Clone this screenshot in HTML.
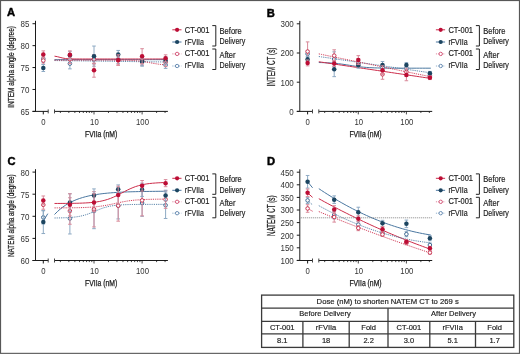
<!DOCTYPE html>
<html><head><meta charset="utf-8"><style>
html,body{margin:0;padding:0;background:#fff;}
svg{display:block;}
text{font-family:"Liberation Sans", sans-serif;}
</style></head><body>
<svg width="520" height="354" viewBox="0 0 520 354">
<defs><filter id="bl" filterUnits="userSpaceOnUse" x="0" y="0" width="520" height="354"><feGaussianBlur stdDeviation="0.3"/></filter></defs>
<rect width="520" height="354" fill="#fff"/>
<g filter="url(#bl)">
<text x="7.00" y="16.10" font-size="11.2" text-anchor="start" font-weight="bold" fill="#000"  stroke="#000" stroke-width="0.45">A</text>
<line x1="35.5" y1="20.80" x2="35.5" y2="111.4" stroke="#1a1a1a" stroke-width="1"/>
<line x1="32.5" y1="111.40" x2="35.5" y2="111.40" stroke="#1a1a1a" stroke-width="1"/>
<text x="29.50" y="114.80" font-size="8.56" text-anchor="end" font-weight="normal" fill="#333"  stroke-width="0" textLength="8.90" lengthAdjust="spacingAndGlyphs">65</text>
<line x1="32.5" y1="89.48" x2="35.5" y2="89.48" stroke="#1a1a1a" stroke-width="1"/>
<text x="29.50" y="92.88" font-size="8.56" text-anchor="end" font-weight="normal" fill="#333"  stroke-width="0" textLength="8.90" lengthAdjust="spacingAndGlyphs">70</text>
<line x1="32.5" y1="67.55" x2="35.5" y2="67.55" stroke="#1a1a1a" stroke-width="1"/>
<text x="29.50" y="70.95" font-size="8.56" text-anchor="end" font-weight="normal" fill="#333"  stroke-width="0" textLength="8.90" lengthAdjust="spacingAndGlyphs">75</text>
<line x1="32.5" y1="45.63" x2="35.5" y2="45.63" stroke="#1a1a1a" stroke-width="1"/>
<text x="29.50" y="49.03" font-size="8.56" text-anchor="end" font-weight="normal" fill="#333"  stroke-width="0" textLength="8.90" lengthAdjust="spacingAndGlyphs">80</text>
<line x1="32.5" y1="23.70" x2="35.5" y2="23.70" stroke="#1a1a1a" stroke-width="1"/>
<text x="29.50" y="27.10" font-size="8.56" text-anchor="end" font-weight="normal" fill="#333"  stroke-width="0" textLength="8.90" lengthAdjust="spacingAndGlyphs">85</text>
<line x1="32.5" y1="111.4" x2="48.2" y2="111.4" stroke="#1a1a1a" stroke-width="1"/>
<line x1="48.2" y1="109.4" x2="48.2" y2="113.4" stroke="#444" stroke-width="1"/>
<line x1="43.3" y1="111.4" x2="43.3" y2="114.4" stroke="#1a1a1a" stroke-width="1"/>
<text x="43.30" y="124.50" font-size="8.14" text-anchor="middle" font-weight="normal" fill="#333"  stroke-width="0" textLength="4.31" lengthAdjust="spacingAndGlyphs">0</text>
<line x1="54.5" y1="111.4" x2="167.9" y2="111.4" stroke="#1a1a1a" stroke-width="1"/>
<line x1="54.5" y1="109.4" x2="54.5" y2="113.4" stroke="#444" stroke-width="1"/>
<line x1="60.38" y1="111.4" x2="60.38" y2="113.0" stroke="#1a1a1a" stroke-width="0.8"/>
<line x1="68.85" y1="111.4" x2="68.85" y2="113.0" stroke="#1a1a1a" stroke-width="0.8"/>
<line x1="74.86" y1="111.4" x2="74.86" y2="113.0" stroke="#1a1a1a" stroke-width="0.8"/>
<line x1="79.52" y1="111.4" x2="79.52" y2="113.0" stroke="#1a1a1a" stroke-width="0.8"/>
<line x1="83.33" y1="111.4" x2="83.33" y2="113.0" stroke="#1a1a1a" stroke-width="0.8"/>
<line x1="86.55" y1="111.4" x2="86.55" y2="113.0" stroke="#1a1a1a" stroke-width="0.8"/>
<line x1="89.34" y1="111.4" x2="89.34" y2="113.0" stroke="#1a1a1a" stroke-width="0.8"/>
<line x1="91.80" y1="111.4" x2="91.80" y2="113.0" stroke="#1a1a1a" stroke-width="0.8"/>
<line x1="94.00" y1="111.4" x2="94.00" y2="114.4" stroke="#1a1a1a" stroke-width="0.8"/>
<line x1="108.48" y1="111.4" x2="108.48" y2="113.0" stroke="#1a1a1a" stroke-width="0.8"/>
<line x1="116.95" y1="111.4" x2="116.95" y2="113.0" stroke="#1a1a1a" stroke-width="0.8"/>
<line x1="122.96" y1="111.4" x2="122.96" y2="113.0" stroke="#1a1a1a" stroke-width="0.8"/>
<line x1="127.62" y1="111.4" x2="127.62" y2="113.0" stroke="#1a1a1a" stroke-width="0.8"/>
<line x1="131.43" y1="111.4" x2="131.43" y2="113.0" stroke="#1a1a1a" stroke-width="0.8"/>
<line x1="134.65" y1="111.4" x2="134.65" y2="113.0" stroke="#1a1a1a" stroke-width="0.8"/>
<line x1="137.44" y1="111.4" x2="137.44" y2="113.0" stroke="#1a1a1a" stroke-width="0.8"/>
<line x1="139.90" y1="111.4" x2="139.90" y2="113.0" stroke="#1a1a1a" stroke-width="0.8"/>
<line x1="142.10" y1="111.4" x2="142.10" y2="114.4" stroke="#1a1a1a" stroke-width="0.8"/>
<line x1="156.58" y1="111.4" x2="156.58" y2="113.0" stroke="#1a1a1a" stroke-width="0.8"/>
<line x1="165.05" y1="111.4" x2="165.05" y2="113.0" stroke="#1a1a1a" stroke-width="0.8"/>
<text x="94.40" y="124.50" font-size="8.14" text-anchor="middle" font-weight="normal" fill="#333"  stroke-width="0" textLength="8.62" lengthAdjust="spacingAndGlyphs">10</text>
<text x="142.50" y="124.50" font-size="8.14" text-anchor="middle" font-weight="normal" fill="#333"  stroke-width="0" textLength="12.93" lengthAdjust="spacingAndGlyphs">100</text>
<text x="101.20" y="136.80" font-size="8.2" text-anchor="middle" font-weight="normal" fill="#1a1a1a"  stroke="#1a1a1a" stroke-width="0.25" textLength="32.2" lengthAdjust="spacingAndGlyphs">FVIIa (nM)</text>
<text transform="translate(14.4,66.95) rotate(-90)" x="0" y="0" font-size="9.0" text-anchor="middle" font-weight="normal" fill="#222" stroke="#222" stroke-width="0.25" textLength="81.7" lengthAdjust="spacingAndGlyphs">INTEM alpha angle (degree)</text>
<path d="M54.50,59.66 L57.30,59.66 L60.10,59.66 L62.90,59.66 L65.70,59.66 L68.50,59.66 L71.30,59.66 L74.10,59.66 L76.90,59.66 L79.70,59.66 L82.50,59.66 L85.30,59.66 L88.10,59.66 L90.90,59.66 L93.70,59.66 L96.50,59.66 L99.30,59.66 L102.10,59.66 L104.90,59.66 L107.70,59.66 L110.50,59.66 L113.30,59.66 L116.10,59.66 L118.90,59.66 L121.70,59.66 L124.50,59.66 L127.30,59.66 L130.10,59.66 L132.90,59.66 L135.70,59.66 L138.50,59.66 L141.30,59.66 L144.10,59.66 L146.90,59.66 L149.70,59.66 L152.50,59.66 L155.30,59.66 L158.10,59.66 L160.90,59.66 L163.70,59.66 L166.50,59.66" fill="none" stroke="#4a77a0" stroke-width="1" />
<path d="M54.50,56.16 L57.30,56.66 L60.10,57.38 L62.90,58.09 L65.70,58.57 L68.50,58.82 L71.30,58.92 L74.10,58.97 L76.90,58.99 L79.70,58.99 L82.50,59.00 L85.30,59.00 L88.10,59.00 L90.90,59.00 L93.70,59.00 L96.50,59.00 L99.30,59.00 L102.10,59.00 L104.90,59.00 L107.70,59.00 L110.50,59.00 L113.30,59.00 L116.10,59.00 L118.90,59.00 L121.70,59.00 L124.50,59.00 L127.30,59.00 L130.10,59.00 L132.90,59.00 L135.70,59.00 L138.50,59.00 L141.30,59.00 L144.10,59.00 L146.90,59.00 L149.70,59.00 L152.50,59.00 L155.30,59.00 L158.10,59.00 L160.90,59.00 L163.70,59.00 L166.50,59.00" fill="none" stroke="#cc2c4a" stroke-width="1" />
<path d="M54.50,60.54 L57.30,60.58 L60.10,60.61 L62.90,60.65 L65.70,60.69 L68.50,60.72 L71.30,60.76 L74.10,60.80 L76.90,60.84 L79.70,60.87 L82.50,60.91 L85.30,60.95 L88.10,60.98 L90.90,61.02 L93.70,61.06 L96.50,61.09 L99.30,61.13 L102.10,61.17 L104.90,61.20 L107.70,61.24 L110.50,61.28 L113.30,61.31 L116.10,61.35 L118.90,61.39 L121.70,61.42 L124.50,61.46 L127.30,61.50 L130.10,61.54 L132.90,61.57 L135.70,61.61 L138.50,61.65 L141.30,61.68 L144.10,61.72 L146.90,61.76 L149.70,61.79 L152.50,61.83 L155.30,61.87 L158.10,61.90 L160.90,61.94 L163.70,61.98 L166.50,62.01" fill="none" stroke="#4a77a0" stroke-width="0.9" stroke-dasharray="1.2,1"/>
<path d="M54.50,60.10 L57.30,60.10 L60.10,60.10 L62.90,60.10 L65.70,60.10 L68.50,60.10 L71.30,60.10 L74.10,60.10 L76.90,60.10 L79.70,60.10 L82.50,60.10 L85.30,60.10 L88.10,60.10 L90.90,60.10 L93.70,60.10 L96.50,60.10 L99.30,60.10 L102.10,60.10 L104.90,60.10 L107.70,60.11 L110.50,60.11 L113.30,60.12 L116.10,60.14 L118.90,60.16 L121.70,60.19 L124.50,60.23 L127.30,60.29 L130.10,60.39 L132.90,60.52 L135.70,60.70 L138.50,60.95 L141.30,61.27 L144.10,61.68 L146.90,62.15 L149.70,62.67 L152.50,63.19 L155.30,63.68 L158.10,64.10 L160.90,64.44 L163.70,64.71 L166.50,64.90" fill="none" stroke="#cc2c4a" stroke-width="0.9" stroke-dasharray="1.2,1"/>
<line x1="43.3" y1="55.27" x2="43.3" y2="62.29" stroke="#8eaac4" stroke-width="1"/>
<line x1="41.5" y1="55.27" x2="45.099999999999994" y2="55.27" stroke="#8eaac4" stroke-width="1"/>
<line x1="41.5" y1="62.29" x2="45.099999999999994" y2="62.29" stroke="#8eaac4" stroke-width="1"/>
<circle cx="43.3" cy="58.78" r="1.8" fill="#fff" stroke="#3f6a93" stroke-width="1"/>
<line x1="69.9" y1="58.34" x2="69.9" y2="68.87" stroke="#8eaac4" stroke-width="1"/>
<line x1="68.10000000000001" y1="58.34" x2="71.7" y2="58.34" stroke="#8eaac4" stroke-width="1"/>
<line x1="68.10000000000001" y1="68.87" x2="71.7" y2="68.87" stroke="#8eaac4" stroke-width="1"/>
<circle cx="69.9" cy="63.60" r="1.8" fill="#fff" stroke="#3f6a93" stroke-width="1"/>
<line x1="94.0" y1="55.27" x2="94.0" y2="64.04" stroke="#8eaac4" stroke-width="1"/>
<line x1="92.2" y1="55.27" x2="95.8" y2="55.27" stroke="#8eaac4" stroke-width="1"/>
<line x1="92.2" y1="64.04" x2="95.8" y2="64.04" stroke="#8eaac4" stroke-width="1"/>
<circle cx="94.0" cy="59.66" r="1.8" fill="#fff" stroke="#3f6a93" stroke-width="1"/>
<line x1="118.2" y1="54.83" x2="118.2" y2="63.60" stroke="#8eaac4" stroke-width="1"/>
<line x1="116.4" y1="54.83" x2="120.0" y2="54.83" stroke="#8eaac4" stroke-width="1"/>
<line x1="116.4" y1="63.60" x2="120.0" y2="63.60" stroke="#8eaac4" stroke-width="1"/>
<circle cx="118.2" cy="59.22" r="1.8" fill="#fff" stroke="#3f6a93" stroke-width="1"/>
<line x1="142.1" y1="58.34" x2="142.1" y2="65.36" stroke="#8eaac4" stroke-width="1"/>
<line x1="140.29999999999998" y1="58.34" x2="143.9" y2="58.34" stroke="#8eaac4" stroke-width="1"/>
<line x1="140.29999999999998" y1="65.36" x2="143.9" y2="65.36" stroke="#8eaac4" stroke-width="1"/>
<circle cx="142.1" cy="61.85" r="1.8" fill="#fff" stroke="#3f6a93" stroke-width="1"/>
<line x1="165.6" y1="61.41" x2="165.6" y2="68.43" stroke="#8eaac4" stroke-width="1"/>
<line x1="163.79999999999998" y1="61.41" x2="167.4" y2="61.41" stroke="#8eaac4" stroke-width="1"/>
<line x1="163.79999999999998" y1="68.43" x2="167.4" y2="68.43" stroke="#8eaac4" stroke-width="1"/>
<circle cx="165.6" cy="64.92" r="1.8" fill="#fff" stroke="#3f6a93" stroke-width="1"/>
<line x1="43.3" y1="57.03" x2="43.3" y2="64.04" stroke="#d98a9a" stroke-width="1"/>
<line x1="41.5" y1="57.03" x2="45.099999999999994" y2="57.03" stroke="#d98a9a" stroke-width="1"/>
<line x1="41.5" y1="64.04" x2="45.099999999999994" y2="64.04" stroke="#d98a9a" stroke-width="1"/>
<circle cx="43.3" cy="60.53" r="1.8" fill="#fff" stroke="#c83350" stroke-width="1"/>
<line x1="69.9" y1="54.83" x2="69.9" y2="63.60" stroke="#d98a9a" stroke-width="1"/>
<line x1="68.10000000000001" y1="54.83" x2="71.7" y2="54.83" stroke="#d98a9a" stroke-width="1"/>
<line x1="68.10000000000001" y1="63.60" x2="71.7" y2="63.60" stroke="#d98a9a" stroke-width="1"/>
<circle cx="69.9" cy="59.22" r="1.8" fill="#fff" stroke="#c83350" stroke-width="1"/>
<line x1="94.0" y1="54.83" x2="94.0" y2="63.60" stroke="#d98a9a" stroke-width="1"/>
<line x1="92.2" y1="54.83" x2="95.8" y2="54.83" stroke="#d98a9a" stroke-width="1"/>
<line x1="92.2" y1="63.60" x2="95.8" y2="63.60" stroke="#d98a9a" stroke-width="1"/>
<circle cx="94.0" cy="59.22" r="1.8" fill="#fff" stroke="#c83350" stroke-width="1"/>
<line x1="118.2" y1="56.15" x2="118.2" y2="64.92" stroke="#d98a9a" stroke-width="1"/>
<line x1="116.4" y1="56.15" x2="120.0" y2="56.15" stroke="#d98a9a" stroke-width="1"/>
<line x1="116.4" y1="64.92" x2="120.0" y2="64.92" stroke="#d98a9a" stroke-width="1"/>
<circle cx="118.2" cy="60.53" r="1.8" fill="#fff" stroke="#c83350" stroke-width="1"/>
<line x1="142.1" y1="56.15" x2="142.1" y2="64.92" stroke="#d98a9a" stroke-width="1"/>
<line x1="140.29999999999998" y1="56.15" x2="143.9" y2="56.15" stroke="#d98a9a" stroke-width="1"/>
<line x1="140.29999999999998" y1="64.92" x2="143.9" y2="64.92" stroke="#d98a9a" stroke-width="1"/>
<circle cx="142.1" cy="60.53" r="1.8" fill="#fff" stroke="#c83350" stroke-width="1"/>
<line x1="165.6" y1="57.90" x2="165.6" y2="66.67" stroke="#d98a9a" stroke-width="1"/>
<line x1="163.79999999999998" y1="57.90" x2="167.4" y2="57.90" stroke="#d98a9a" stroke-width="1"/>
<line x1="163.79999999999998" y1="66.67" x2="167.4" y2="66.67" stroke="#d98a9a" stroke-width="1"/>
<circle cx="165.6" cy="62.29" r="1.8" fill="#fff" stroke="#c83350" stroke-width="1"/>
<line x1="43.3" y1="64.48" x2="43.3" y2="71.50" stroke="#8eaac4" stroke-width="1"/>
<line x1="41.5" y1="64.48" x2="45.099999999999994" y2="64.48" stroke="#8eaac4" stroke-width="1"/>
<line x1="41.5" y1="71.50" x2="45.099999999999994" y2="71.50" stroke="#8eaac4" stroke-width="1"/>
<circle cx="43.3" cy="67.99" r="2.25" fill="#1c4561"/>
<line x1="69.9" y1="51.33" x2="69.9" y2="59.22" stroke="#8eaac4" stroke-width="1"/>
<line x1="68.10000000000001" y1="51.33" x2="71.7" y2="51.33" stroke="#8eaac4" stroke-width="1"/>
<line x1="68.10000000000001" y1="59.22" x2="71.7" y2="59.22" stroke="#8eaac4" stroke-width="1"/>
<circle cx="69.9" cy="55.27" r="2.25" fill="#1c4561"/>
<line x1="94.0" y1="46.06" x2="94.0" y2="66.23" stroke="#8eaac4" stroke-width="1"/>
<line x1="92.2" y1="46.06" x2="95.8" y2="46.06" stroke="#8eaac4" stroke-width="1"/>
<line x1="92.2" y1="66.23" x2="95.8" y2="66.23" stroke="#8eaac4" stroke-width="1"/>
<circle cx="94.0" cy="56.15" r="2.25" fill="#1c4561"/>
<line x1="118.2" y1="50.45" x2="118.2" y2="58.34" stroke="#8eaac4" stroke-width="1"/>
<line x1="116.4" y1="50.45" x2="120.0" y2="50.45" stroke="#8eaac4" stroke-width="1"/>
<line x1="116.4" y1="58.34" x2="120.0" y2="58.34" stroke="#8eaac4" stroke-width="1"/>
<circle cx="118.2" cy="54.40" r="2.25" fill="#1c4561"/>
<line x1="142.1" y1="57.46" x2="142.1" y2="66.23" stroke="#8eaac4" stroke-width="1"/>
<line x1="140.29999999999998" y1="57.46" x2="143.9" y2="57.46" stroke="#8eaac4" stroke-width="1"/>
<line x1="140.29999999999998" y1="66.23" x2="143.9" y2="66.23" stroke="#8eaac4" stroke-width="1"/>
<circle cx="142.1" cy="61.85" r="2.25" fill="#1c4561"/>
<line x1="165.6" y1="57.03" x2="165.6" y2="64.04" stroke="#8eaac4" stroke-width="1"/>
<line x1="163.79999999999998" y1="57.03" x2="167.4" y2="57.03" stroke="#8eaac4" stroke-width="1"/>
<line x1="163.79999999999998" y1="64.04" x2="167.4" y2="64.04" stroke="#8eaac4" stroke-width="1"/>
<circle cx="165.6" cy="60.53" r="2.25" fill="#1c4561"/>
<line x1="43.3" y1="50.89" x2="43.3" y2="57.90" stroke="#d98a9a" stroke-width="1"/>
<line x1="41.5" y1="50.89" x2="45.099999999999994" y2="50.89" stroke="#d98a9a" stroke-width="1"/>
<line x1="41.5" y1="57.90" x2="45.099999999999994" y2="57.90" stroke="#d98a9a" stroke-width="1"/>
<circle cx="43.3" cy="54.40" r="2.25" fill="#bc1036"/>
<line x1="69.9" y1="50.89" x2="69.9" y2="58.78" stroke="#d98a9a" stroke-width="1"/>
<line x1="68.10000000000001" y1="50.89" x2="71.7" y2="50.89" stroke="#d98a9a" stroke-width="1"/>
<line x1="68.10000000000001" y1="58.78" x2="71.7" y2="58.78" stroke="#d98a9a" stroke-width="1"/>
<circle cx="69.9" cy="54.83" r="2.25" fill="#bc1036"/>
<line x1="94.0" y1="63.17" x2="94.0" y2="77.20" stroke="#d98a9a" stroke-width="1"/>
<line x1="92.2" y1="63.17" x2="95.8" y2="63.17" stroke="#d98a9a" stroke-width="1"/>
<line x1="92.2" y1="77.20" x2="95.8" y2="77.20" stroke="#d98a9a" stroke-width="1"/>
<circle cx="94.0" cy="70.18" r="2.25" fill="#bc1036"/>
<line x1="118.2" y1="54.83" x2="118.2" y2="65.36" stroke="#d98a9a" stroke-width="1"/>
<line x1="116.4" y1="54.83" x2="120.0" y2="54.83" stroke="#d98a9a" stroke-width="1"/>
<line x1="116.4" y1="65.36" x2="120.0" y2="65.36" stroke="#d98a9a" stroke-width="1"/>
<circle cx="118.2" cy="60.10" r="2.25" fill="#bc1036"/>
<line x1="142.1" y1="48.69" x2="142.1" y2="63.60" stroke="#d98a9a" stroke-width="1"/>
<line x1="140.29999999999998" y1="48.69" x2="143.9" y2="48.69" stroke="#d98a9a" stroke-width="1"/>
<line x1="140.29999999999998" y1="63.60" x2="143.9" y2="63.60" stroke="#d98a9a" stroke-width="1"/>
<circle cx="142.1" cy="56.15" r="2.25" fill="#bc1036"/>
<line x1="165.6" y1="54.83" x2="165.6" y2="61.85" stroke="#d98a9a" stroke-width="1"/>
<line x1="163.79999999999998" y1="54.83" x2="167.4" y2="54.83" stroke="#d98a9a" stroke-width="1"/>
<line x1="163.79999999999998" y1="61.85" x2="167.4" y2="61.85" stroke="#d98a9a" stroke-width="1"/>
<circle cx="165.6" cy="58.34" r="2.25" fill="#bc1036"/>
<line x1="172.3" y1="29.8" x2="181.5" y2="29.8" stroke="#cc2c4a" stroke-width="1"/>
<circle cx="177.1" cy="29.8" r="2.1" fill="#bc1036"/>
<text x="184.80" y="32.70" font-size="8.6" text-anchor="start" font-weight="normal" fill="#1a1a1a" stroke="#1a1a1a" stroke-width="0.17" textLength="24.6" lengthAdjust="spacingAndGlyphs">CT-001</text>
<line x1="172.3" y1="42.0" x2="181.5" y2="42.0" stroke="#4a77a0" stroke-width="1"/>
<circle cx="177.1" cy="42.0" r="2.1" fill="#1c4561"/>
<text x="184.80" y="44.80" font-size="8.6" text-anchor="start" font-weight="normal" fill="#1a1a1a" stroke="#1a1a1a" stroke-width="0.17" textLength="19.2" lengthAdjust="spacingAndGlyphs">rFVIIa</text>
<line x1="172.3" y1="53.9" x2="181.5" y2="53.9" stroke="#e08aa0" stroke-width="1" stroke-dasharray="1.2,1"/>
<circle cx="177.1" cy="53.9" r="1.7" fill="#fff" stroke="#d4587a" stroke-width="1"/>
<text x="184.80" y="56.40" font-size="8.6" text-anchor="start" font-weight="normal" fill="#1a1a1a" stroke="#1a1a1a" stroke-width="0.17" textLength="24.6" lengthAdjust="spacingAndGlyphs">CT-001</text>
<line x1="172.3" y1="66.0" x2="181.5" y2="66.0" stroke="#92b0cc" stroke-width="1" stroke-dasharray="1.2,1"/>
<circle cx="177.1" cy="66.0" r="1.7" fill="#fff" stroke="#6a8db3" stroke-width="1"/>
<text x="184.80" y="68.40" font-size="8.6" text-anchor="start" font-weight="normal" fill="#1a1a1a" stroke="#1a1a1a" stroke-width="0.17" textLength="19.2" lengthAdjust="spacingAndGlyphs">rFVIIa</text>
<path d="M212.3,25.6 H215.8 V46.0 H212.3" fill="none" stroke="#222" stroke-width="1"/>
<path d="M212.3,49.0 H215.8 V69.5 H212.3" fill="none" stroke="#222" stroke-width="1"/>
<text x="219.60" y="34.00" font-size="8.6" text-anchor="start" font-weight="normal" fill="#1a1a1a" stroke="#1a1a1a" stroke-width="0.17" textLength="22.2" lengthAdjust="spacingAndGlyphs">Before</text>
<text x="219.60" y="44.20" font-size="8.6" text-anchor="start" font-weight="normal" fill="#1a1a1a" stroke="#1a1a1a" stroke-width="0.17" textLength="25.7" lengthAdjust="spacingAndGlyphs">Delivery</text>
<text x="219.60" y="58.00" font-size="8.6" text-anchor="start" font-weight="normal" fill="#1a1a1a" stroke="#1a1a1a" stroke-width="0.17" textLength="16" lengthAdjust="spacingAndGlyphs">After</text>
<text x="219.60" y="68.00" font-size="8.6" text-anchor="start" font-weight="normal" fill="#1a1a1a" stroke="#1a1a1a" stroke-width="0.17" textLength="25.7" lengthAdjust="spacingAndGlyphs">Delivery</text>
<text x="266.80" y="16.50" font-size="11.2" text-anchor="start" font-weight="bold" fill="#000"  stroke="#000" stroke-width="0.45">B</text>
<line x1="299.8" y1="20.90" x2="299.8" y2="111.4" stroke="#1a1a1a" stroke-width="1"/>
<line x1="296.8" y1="111.40" x2="299.8" y2="111.40" stroke="#1a1a1a" stroke-width="1"/>
<text x="293.80" y="114.80" font-size="8.56" text-anchor="end" font-weight="normal" fill="#333"  stroke-width="0" textLength="4.45" lengthAdjust="spacingAndGlyphs">0</text>
<line x1="296.8" y1="82.20" x2="299.8" y2="82.20" stroke="#1a1a1a" stroke-width="1"/>
<text x="293.80" y="85.60" font-size="8.56" text-anchor="end" font-weight="normal" fill="#333"  stroke-width="0" textLength="13.35" lengthAdjust="spacingAndGlyphs">100</text>
<line x1="296.8" y1="53.00" x2="299.8" y2="53.00" stroke="#1a1a1a" stroke-width="1"/>
<text x="293.80" y="56.40" font-size="8.56" text-anchor="end" font-weight="normal" fill="#333"  stroke-width="0" textLength="13.35" lengthAdjust="spacingAndGlyphs">200</text>
<line x1="296.8" y1="23.80" x2="299.8" y2="23.80" stroke="#1a1a1a" stroke-width="1"/>
<text x="293.80" y="27.20" font-size="8.56" text-anchor="end" font-weight="normal" fill="#333"  stroke-width="0" textLength="13.35" lengthAdjust="spacingAndGlyphs">300</text>
<line x1="296.8" y1="111.4" x2="312.5" y2="111.4" stroke="#1a1a1a" stroke-width="1"/>
<line x1="312.5" y1="109.4" x2="312.5" y2="113.4" stroke="#444" stroke-width="1"/>
<line x1="307.6" y1="111.4" x2="307.6" y2="114.4" stroke="#1a1a1a" stroke-width="1"/>
<text x="307.60" y="124.50" font-size="8.14" text-anchor="middle" font-weight="normal" fill="#333"  stroke-width="0" textLength="4.31" lengthAdjust="spacingAndGlyphs">0</text>
<line x1="318.8" y1="111.4" x2="432.20000000000005" y2="111.4" stroke="#1a1a1a" stroke-width="1"/>
<line x1="318.8" y1="109.4" x2="318.8" y2="113.4" stroke="#444" stroke-width="1"/>
<line x1="324.68" y1="111.4" x2="324.68" y2="113.0" stroke="#1a1a1a" stroke-width="0.8"/>
<line x1="333.15" y1="111.4" x2="333.15" y2="113.0" stroke="#1a1a1a" stroke-width="0.8"/>
<line x1="339.16" y1="111.4" x2="339.16" y2="113.0" stroke="#1a1a1a" stroke-width="0.8"/>
<line x1="343.82" y1="111.4" x2="343.82" y2="113.0" stroke="#1a1a1a" stroke-width="0.8"/>
<line x1="347.63" y1="111.4" x2="347.63" y2="113.0" stroke="#1a1a1a" stroke-width="0.8"/>
<line x1="350.85" y1="111.4" x2="350.85" y2="113.0" stroke="#1a1a1a" stroke-width="0.8"/>
<line x1="353.64" y1="111.4" x2="353.64" y2="113.0" stroke="#1a1a1a" stroke-width="0.8"/>
<line x1="356.10" y1="111.4" x2="356.10" y2="113.0" stroke="#1a1a1a" stroke-width="0.8"/>
<line x1="358.30" y1="111.4" x2="358.30" y2="114.4" stroke="#1a1a1a" stroke-width="0.8"/>
<line x1="372.78" y1="111.4" x2="372.78" y2="113.0" stroke="#1a1a1a" stroke-width="0.8"/>
<line x1="381.25" y1="111.4" x2="381.25" y2="113.0" stroke="#1a1a1a" stroke-width="0.8"/>
<line x1="387.26" y1="111.4" x2="387.26" y2="113.0" stroke="#1a1a1a" stroke-width="0.8"/>
<line x1="391.92" y1="111.4" x2="391.92" y2="113.0" stroke="#1a1a1a" stroke-width="0.8"/>
<line x1="395.73" y1="111.4" x2="395.73" y2="113.0" stroke="#1a1a1a" stroke-width="0.8"/>
<line x1="398.95" y1="111.4" x2="398.95" y2="113.0" stroke="#1a1a1a" stroke-width="0.8"/>
<line x1="401.74" y1="111.4" x2="401.74" y2="113.0" stroke="#1a1a1a" stroke-width="0.8"/>
<line x1="404.20" y1="111.4" x2="404.20" y2="113.0" stroke="#1a1a1a" stroke-width="0.8"/>
<line x1="406.40" y1="111.4" x2="406.40" y2="114.4" stroke="#1a1a1a" stroke-width="0.8"/>
<line x1="420.88" y1="111.4" x2="420.88" y2="113.0" stroke="#1a1a1a" stroke-width="0.8"/>
<line x1="429.35" y1="111.4" x2="429.35" y2="113.0" stroke="#1a1a1a" stroke-width="0.8"/>
<text x="358.70" y="124.50" font-size="8.14" text-anchor="middle" font-weight="normal" fill="#333"  stroke-width="0" textLength="8.62" lengthAdjust="spacingAndGlyphs">10</text>
<text x="406.80" y="124.50" font-size="8.14" text-anchor="middle" font-weight="normal" fill="#333"  stroke-width="0" textLength="12.93" lengthAdjust="spacingAndGlyphs">100</text>
<text x="365.50" y="136.80" font-size="8.2" text-anchor="middle" font-weight="normal" fill="#1a1a1a"  stroke="#1a1a1a" stroke-width="0.25" textLength="32.2" lengthAdjust="spacingAndGlyphs">FVIIa (nM)</text>
<text transform="translate(274.9,67.00) rotate(-90)" x="0" y="0" font-size="10.4" text-anchor="middle" font-weight="normal" fill="#222" stroke="#222" stroke-width="0.25" textLength="38.9" lengthAdjust="spacingAndGlyphs">INTEM CT (s)</text>
<path d="M318.80,62.53 L321.60,62.60 L324.40,62.69 L327.20,62.81 L330.00,62.96 L332.80,63.15 L335.60,63.39 L338.40,63.68 L341.20,64.03 L344.00,64.43 L346.80,64.86 L349.60,65.31 L352.40,65.76 L355.20,66.19 L358.00,66.57 L360.80,66.91 L363.60,67.19 L366.40,67.42 L369.20,67.61 L372.00,67.75 L374.80,67.86 L377.60,67.94 L380.40,68.01 L383.20,68.05 L386.00,68.09 L388.80,68.11 L391.60,68.13 L394.40,68.15 L397.20,68.16 L400.00,68.16 L402.80,68.17 L405.60,68.17 L408.40,68.18 L411.20,68.18 L414.00,68.18 L416.80,68.18 L419.60,68.18 L422.40,68.18 L425.20,68.18 L428.00,68.18 L430.80,68.18" fill="none" stroke="#4a77a0" stroke-width="1" />
<path d="M318.80,61.76 L321.60,62.18 L324.40,62.59 L327.20,63.01 L330.00,63.43 L332.80,63.84 L335.60,64.26 L338.40,64.68 L341.20,65.10 L344.00,65.51 L346.80,65.93 L349.60,66.35 L352.40,66.76 L355.20,67.18 L358.00,67.60 L360.80,68.01 L363.60,68.43 L366.40,68.85 L369.20,69.27 L372.00,69.68 L374.80,70.10 L377.60,70.52 L380.40,70.93 L383.20,71.35 L386.00,71.77 L388.80,72.18 L391.60,72.60 L394.40,73.02 L397.20,73.44 L400.00,73.85 L402.80,74.27 L405.60,74.69 L408.40,75.10 L411.20,75.52 L414.00,75.94 L416.80,76.35 L419.60,76.77 L422.40,77.19 L425.20,77.61 L428.00,78.02 L430.80,78.44" fill="none" stroke="#cc2c4a" stroke-width="1" />
<path d="M318.80,56.50 L321.60,56.91 L324.40,57.32 L327.20,57.73 L330.00,58.14 L332.80,58.55 L335.60,58.96 L338.40,59.37 L341.20,59.77 L344.00,60.18 L346.80,60.59 L349.60,61.00 L352.40,61.41 L355.20,61.82 L358.00,62.23 L360.80,62.64 L363.60,63.04 L366.40,63.45 L369.20,63.86 L372.00,64.27 L374.80,64.68 L377.60,65.09 L380.40,65.50 L383.20,65.91 L386.00,66.32 L388.80,66.72 L391.60,67.13 L394.40,67.54 L397.20,67.95 L400.00,68.36 L402.80,68.77 L405.60,69.18 L408.40,69.59 L411.20,69.99 L414.00,70.40 L416.80,70.81 L419.60,71.22 L422.40,71.63 L425.20,72.04 L428.00,72.45 L430.80,72.86" fill="none" stroke="#4a77a0" stroke-width="0.9" stroke-dasharray="1.2,1"/>
<path d="M318.80,53.88 L321.60,54.45 L324.40,55.02 L327.20,55.59 L330.00,56.17 L332.80,56.74 L335.60,57.31 L338.40,57.88 L341.20,58.45 L344.00,59.03 L346.80,59.60 L349.60,60.17 L352.40,60.74 L355.20,61.32 L358.00,61.89 L360.80,62.46 L363.60,63.03 L366.40,63.61 L369.20,64.18 L372.00,64.75 L374.80,65.32 L377.60,65.89 L380.40,66.47 L383.20,67.04 L386.00,67.61 L388.80,68.18 L391.60,68.76 L394.40,69.33 L397.20,69.90 L400.00,70.47 L402.80,71.05 L405.60,71.62 L408.40,72.19 L411.20,72.76 L414.00,73.33 L416.80,73.91 L419.60,74.48 L422.40,75.05 L425.20,75.62 L428.00,76.20 L430.80,76.77" fill="none" stroke="#cc2c4a" stroke-width="0.9" stroke-dasharray="1.2,1"/>
<line x1="307.6" y1="50.96" x2="307.6" y2="56.80" stroke="#8eaac4" stroke-width="1"/>
<line x1="305.8" y1="50.96" x2="309.40000000000003" y2="50.96" stroke="#8eaac4" stroke-width="1"/>
<line x1="305.8" y1="56.80" x2="309.40000000000003" y2="56.80" stroke="#8eaac4" stroke-width="1"/>
<circle cx="307.6" cy="53.88" r="1.8" fill="#fff" stroke="#3f6a93" stroke-width="1"/>
<line x1="334.20000000000005" y1="51.83" x2="334.20000000000005" y2="66.43" stroke="#8eaac4" stroke-width="1"/>
<line x1="332.40000000000003" y1="51.83" x2="336.00000000000006" y2="51.83" stroke="#8eaac4" stroke-width="1"/>
<line x1="332.40000000000003" y1="66.43" x2="336.00000000000006" y2="66.43" stroke="#8eaac4" stroke-width="1"/>
<circle cx="334.20000000000005" cy="59.13" r="1.8" fill="#fff" stroke="#3f6a93" stroke-width="1"/>
<line x1="358.3" y1="60.88" x2="358.3" y2="66.72" stroke="#8eaac4" stroke-width="1"/>
<line x1="356.5" y1="60.88" x2="360.1" y2="60.88" stroke="#8eaac4" stroke-width="1"/>
<line x1="356.5" y1="66.72" x2="360.1" y2="66.72" stroke="#8eaac4" stroke-width="1"/>
<circle cx="358.3" cy="63.80" r="1.8" fill="#fff" stroke="#3f6a93" stroke-width="1"/>
<line x1="382.5" y1="64.68" x2="382.5" y2="70.52" stroke="#8eaac4" stroke-width="1"/>
<line x1="380.7" y1="64.68" x2="384.3" y2="64.68" stroke="#8eaac4" stroke-width="1"/>
<line x1="380.7" y1="70.52" x2="384.3" y2="70.52" stroke="#8eaac4" stroke-width="1"/>
<circle cx="382.5" cy="67.60" r="1.8" fill="#fff" stroke="#3f6a93" stroke-width="1"/>
<line x1="406.4" y1="65.85" x2="406.4" y2="70.52" stroke="#8eaac4" stroke-width="1"/>
<line x1="404.59999999999997" y1="65.85" x2="408.2" y2="65.85" stroke="#8eaac4" stroke-width="1"/>
<line x1="404.59999999999997" y1="70.52" x2="408.2" y2="70.52" stroke="#8eaac4" stroke-width="1"/>
<circle cx="406.4" cy="68.18" r="1.8" fill="#fff" stroke="#3f6a93" stroke-width="1"/>
<line x1="429.9" y1="73.44" x2="429.9" y2="76.94" stroke="#8eaac4" stroke-width="1"/>
<line x1="428.09999999999997" y1="73.44" x2="431.7" y2="73.44" stroke="#8eaac4" stroke-width="1"/>
<line x1="428.09999999999997" y1="76.94" x2="431.7" y2="76.94" stroke="#8eaac4" stroke-width="1"/>
<circle cx="429.9" cy="75.19" r="1.8" fill="#fff" stroke="#3f6a93" stroke-width="1"/>
<line x1="307.6" y1="41.90" x2="307.6" y2="61.18" stroke="#d98a9a" stroke-width="1"/>
<line x1="305.8" y1="41.90" x2="309.40000000000003" y2="41.90" stroke="#d98a9a" stroke-width="1"/>
<line x1="305.8" y1="61.18" x2="309.40000000000003" y2="61.18" stroke="#d98a9a" stroke-width="1"/>
<circle cx="307.6" cy="51.54" r="1.8" fill="#fff" stroke="#c83350" stroke-width="1"/>
<line x1="334.20000000000005" y1="49.79" x2="334.20000000000005" y2="61.47" stroke="#d98a9a" stroke-width="1"/>
<line x1="332.40000000000003" y1="49.79" x2="336.00000000000006" y2="49.79" stroke="#d98a9a" stroke-width="1"/>
<line x1="332.40000000000003" y1="61.47" x2="336.00000000000006" y2="61.47" stroke="#d98a9a" stroke-width="1"/>
<circle cx="334.20000000000005" cy="55.63" r="1.8" fill="#fff" stroke="#c83350" stroke-width="1"/>
<line x1="358.3" y1="58.55" x2="358.3" y2="67.31" stroke="#d98a9a" stroke-width="1"/>
<line x1="356.5" y1="58.55" x2="360.1" y2="58.55" stroke="#d98a9a" stroke-width="1"/>
<line x1="356.5" y1="67.31" x2="360.1" y2="67.31" stroke="#d98a9a" stroke-width="1"/>
<circle cx="358.3" cy="62.93" r="1.8" fill="#fff" stroke="#c83350" stroke-width="1"/>
<line x1="382.5" y1="69.35" x2="382.5" y2="79.28" stroke="#d98a9a" stroke-width="1"/>
<line x1="380.7" y1="69.35" x2="384.3" y2="69.35" stroke="#d98a9a" stroke-width="1"/>
<line x1="380.7" y1="79.28" x2="384.3" y2="79.28" stroke="#d98a9a" stroke-width="1"/>
<circle cx="382.5" cy="74.32" r="1.8" fill="#fff" stroke="#c83350" stroke-width="1"/>
<line x1="406.4" y1="67.60" x2="406.4" y2="76.36" stroke="#d98a9a" stroke-width="1"/>
<line x1="404.59999999999997" y1="67.60" x2="408.2" y2="67.60" stroke="#d98a9a" stroke-width="1"/>
<line x1="404.59999999999997" y1="76.36" x2="408.2" y2="76.36" stroke="#d98a9a" stroke-width="1"/>
<circle cx="406.4" cy="71.98" r="1.8" fill="#fff" stroke="#c83350" stroke-width="1"/>
<line x1="429.9" y1="75.19" x2="429.9" y2="78.70" stroke="#d98a9a" stroke-width="1"/>
<line x1="428.09999999999997" y1="75.19" x2="431.7" y2="75.19" stroke="#d98a9a" stroke-width="1"/>
<line x1="428.09999999999997" y1="78.70" x2="431.7" y2="78.70" stroke="#d98a9a" stroke-width="1"/>
<circle cx="429.9" cy="76.94" r="1.8" fill="#fff" stroke="#c83350" stroke-width="1"/>
<line x1="307.6" y1="56.21" x2="307.6" y2="62.05" stroke="#8eaac4" stroke-width="1"/>
<line x1="305.8" y1="56.21" x2="309.40000000000003" y2="56.21" stroke="#8eaac4" stroke-width="1"/>
<line x1="305.8" y1="62.05" x2="309.40000000000003" y2="62.05" stroke="#8eaac4" stroke-width="1"/>
<circle cx="307.6" cy="59.13" r="2.25" fill="#1c4561"/>
<line x1="334.20000000000005" y1="62.05" x2="334.20000000000005" y2="76.65" stroke="#8eaac4" stroke-width="1"/>
<line x1="332.40000000000003" y1="62.05" x2="336.00000000000006" y2="62.05" stroke="#8eaac4" stroke-width="1"/>
<line x1="332.40000000000003" y1="76.65" x2="336.00000000000006" y2="76.65" stroke="#8eaac4" stroke-width="1"/>
<circle cx="334.20000000000005" cy="69.35" r="2.25" fill="#1c4561"/>
<line x1="358.3" y1="62.34" x2="358.3" y2="68.18" stroke="#8eaac4" stroke-width="1"/>
<line x1="356.5" y1="62.34" x2="360.1" y2="62.34" stroke="#8eaac4" stroke-width="1"/>
<line x1="356.5" y1="68.18" x2="360.1" y2="68.18" stroke="#8eaac4" stroke-width="1"/>
<circle cx="358.3" cy="65.26" r="2.25" fill="#1c4561"/>
<line x1="382.5" y1="61.47" x2="382.5" y2="68.48" stroke="#8eaac4" stroke-width="1"/>
<line x1="380.7" y1="61.47" x2="384.3" y2="61.47" stroke="#8eaac4" stroke-width="1"/>
<line x1="380.7" y1="68.48" x2="384.3" y2="68.48" stroke="#8eaac4" stroke-width="1"/>
<circle cx="382.5" cy="64.97" r="2.25" fill="#1c4561"/>
<line x1="406.4" y1="62.64" x2="406.4" y2="67.31" stroke="#8eaac4" stroke-width="1"/>
<line x1="404.59999999999997" y1="62.64" x2="408.2" y2="62.64" stroke="#8eaac4" stroke-width="1"/>
<line x1="404.59999999999997" y1="67.31" x2="408.2" y2="67.31" stroke="#8eaac4" stroke-width="1"/>
<circle cx="406.4" cy="64.97" r="2.25" fill="#1c4561"/>
<line x1="429.9" y1="71.40" x2="429.9" y2="74.90" stroke="#8eaac4" stroke-width="1"/>
<line x1="428.09999999999997" y1="71.40" x2="431.7" y2="71.40" stroke="#8eaac4" stroke-width="1"/>
<line x1="428.09999999999997" y1="74.90" x2="431.7" y2="74.90" stroke="#8eaac4" stroke-width="1"/>
<circle cx="429.9" cy="73.15" r="2.25" fill="#1c4561"/>
<line x1="307.6" y1="60.01" x2="307.6" y2="65.85" stroke="#d98a9a" stroke-width="1"/>
<line x1="305.8" y1="60.01" x2="309.40000000000003" y2="60.01" stroke="#d98a9a" stroke-width="1"/>
<line x1="305.8" y1="65.85" x2="309.40000000000003" y2="65.85" stroke="#d98a9a" stroke-width="1"/>
<circle cx="307.6" cy="62.93" r="2.25" fill="#bc1036"/>
<line x1="334.20000000000005" y1="60.59" x2="334.20000000000005" y2="66.43" stroke="#d98a9a" stroke-width="1"/>
<line x1="332.40000000000003" y1="60.59" x2="336.00000000000006" y2="60.59" stroke="#d98a9a" stroke-width="1"/>
<line x1="332.40000000000003" y1="66.43" x2="336.00000000000006" y2="66.43" stroke="#d98a9a" stroke-width="1"/>
<circle cx="334.20000000000005" cy="63.51" r="2.25" fill="#bc1036"/>
<line x1="358.3" y1="55.63" x2="358.3" y2="64.39" stroke="#d98a9a" stroke-width="1"/>
<line x1="356.5" y1="55.63" x2="360.1" y2="55.63" stroke="#d98a9a" stroke-width="1"/>
<line x1="356.5" y1="64.39" x2="360.1" y2="64.39" stroke="#d98a9a" stroke-width="1"/>
<circle cx="358.3" cy="60.01" r="2.25" fill="#bc1036"/>
<line x1="382.5" y1="65.85" x2="382.5" y2="74.61" stroke="#d98a9a" stroke-width="1"/>
<line x1="380.7" y1="65.85" x2="384.3" y2="65.85" stroke="#d98a9a" stroke-width="1"/>
<line x1="380.7" y1="74.61" x2="384.3" y2="74.61" stroke="#d98a9a" stroke-width="1"/>
<circle cx="382.5" cy="70.23" r="2.25" fill="#bc1036"/>
<line x1="406.4" y1="69.06" x2="406.4" y2="80.74" stroke="#d98a9a" stroke-width="1"/>
<line x1="404.59999999999997" y1="69.06" x2="408.2" y2="69.06" stroke="#d98a9a" stroke-width="1"/>
<line x1="404.59999999999997" y1="80.74" x2="408.2" y2="80.74" stroke="#d98a9a" stroke-width="1"/>
<circle cx="406.4" cy="74.90" r="2.25" fill="#bc1036"/>
<line x1="429.9" y1="76.07" x2="429.9" y2="79.57" stroke="#d98a9a" stroke-width="1"/>
<line x1="428.09999999999997" y1="76.07" x2="431.7" y2="76.07" stroke="#d98a9a" stroke-width="1"/>
<line x1="428.09999999999997" y1="79.57" x2="431.7" y2="79.57" stroke="#d98a9a" stroke-width="1"/>
<circle cx="429.9" cy="77.82" r="2.25" fill="#bc1036"/>
<line x1="435.90000000000003" y1="29.8" x2="445.1" y2="29.8" stroke="#cc2c4a" stroke-width="1"/>
<circle cx="440.70000000000005" cy="29.8" r="2.1" fill="#bc1036"/>
<text x="448.40" y="32.70" font-size="8.6" text-anchor="start" font-weight="normal" fill="#1a1a1a" stroke="#1a1a1a" stroke-width="0.17" textLength="24.6" lengthAdjust="spacingAndGlyphs">CT-001</text>
<line x1="435.90000000000003" y1="42.0" x2="445.1" y2="42.0" stroke="#4a77a0" stroke-width="1"/>
<circle cx="440.70000000000005" cy="42.0" r="2.1" fill="#1c4561"/>
<text x="448.40" y="44.80" font-size="8.6" text-anchor="start" font-weight="normal" fill="#1a1a1a" stroke="#1a1a1a" stroke-width="0.17" textLength="19.2" lengthAdjust="spacingAndGlyphs">rFVIIa</text>
<line x1="435.90000000000003" y1="53.9" x2="445.1" y2="53.9" stroke="#e08aa0" stroke-width="1" stroke-dasharray="1.2,1"/>
<circle cx="440.70000000000005" cy="53.9" r="1.7" fill="#fff" stroke="#d4587a" stroke-width="1"/>
<text x="448.40" y="56.40" font-size="8.6" text-anchor="start" font-weight="normal" fill="#1a1a1a" stroke="#1a1a1a" stroke-width="0.17" textLength="24.6" lengthAdjust="spacingAndGlyphs">CT-001</text>
<line x1="435.90000000000003" y1="66.0" x2="445.1" y2="66.0" stroke="#92b0cc" stroke-width="1" stroke-dasharray="1.2,1"/>
<circle cx="440.70000000000005" cy="66.0" r="1.7" fill="#fff" stroke="#6a8db3" stroke-width="1"/>
<text x="448.40" y="68.40" font-size="8.6" text-anchor="start" font-weight="normal" fill="#1a1a1a" stroke="#1a1a1a" stroke-width="0.17" textLength="19.2" lengthAdjust="spacingAndGlyphs">rFVIIa</text>
<path d="M475.90000000000003,25.6 H479.40000000000003 V46.0 H475.90000000000003" fill="none" stroke="#222" stroke-width="1"/>
<path d="M475.90000000000003,49.0 H479.40000000000003 V69.5 H475.90000000000003" fill="none" stroke="#222" stroke-width="1"/>
<text x="483.20" y="34.00" font-size="8.6" text-anchor="start" font-weight="normal" fill="#1a1a1a" stroke="#1a1a1a" stroke-width="0.17" textLength="22.2" lengthAdjust="spacingAndGlyphs">Before</text>
<text x="483.20" y="44.20" font-size="8.6" text-anchor="start" font-weight="normal" fill="#1a1a1a" stroke="#1a1a1a" stroke-width="0.17" textLength="25.7" lengthAdjust="spacingAndGlyphs">Delivery</text>
<text x="483.20" y="58.00" font-size="8.6" text-anchor="start" font-weight="normal" fill="#1a1a1a" stroke="#1a1a1a" stroke-width="0.17" textLength="16" lengthAdjust="spacingAndGlyphs">After</text>
<text x="483.20" y="68.00" font-size="8.6" text-anchor="start" font-weight="normal" fill="#1a1a1a" stroke="#1a1a1a" stroke-width="0.17" textLength="25.7" lengthAdjust="spacingAndGlyphs">Delivery</text>
<text x="7.60" y="165.30" font-size="11.2" text-anchor="start" font-weight="bold" fill="#000"  stroke="#000" stroke-width="0.45">C</text>
<line x1="35.5" y1="169.20" x2="35.5" y2="260.5" stroke="#1a1a1a" stroke-width="1"/>
<line x1="32.5" y1="260.50" x2="35.5" y2="260.50" stroke="#1a1a1a" stroke-width="1"/>
<text x="29.50" y="263.90" font-size="8.56" text-anchor="end" font-weight="normal" fill="#333"  stroke-width="0" textLength="8.90" lengthAdjust="spacingAndGlyphs">60</text>
<line x1="32.5" y1="238.40" x2="35.5" y2="238.40" stroke="#1a1a1a" stroke-width="1"/>
<text x="29.50" y="241.80" font-size="8.56" text-anchor="end" font-weight="normal" fill="#333"  stroke-width="0" textLength="8.90" lengthAdjust="spacingAndGlyphs">65</text>
<line x1="32.5" y1="216.30" x2="35.5" y2="216.30" stroke="#1a1a1a" stroke-width="1"/>
<text x="29.50" y="219.70" font-size="8.56" text-anchor="end" font-weight="normal" fill="#333"  stroke-width="0" textLength="8.90" lengthAdjust="spacingAndGlyphs">70</text>
<line x1="32.5" y1="194.20" x2="35.5" y2="194.20" stroke="#1a1a1a" stroke-width="1"/>
<text x="29.50" y="197.60" font-size="8.56" text-anchor="end" font-weight="normal" fill="#333"  stroke-width="0" textLength="8.90" lengthAdjust="spacingAndGlyphs">75</text>
<line x1="32.5" y1="172.10" x2="35.5" y2="172.10" stroke="#1a1a1a" stroke-width="1"/>
<text x="29.50" y="175.50" font-size="8.56" text-anchor="end" font-weight="normal" fill="#333"  stroke-width="0" textLength="8.90" lengthAdjust="spacingAndGlyphs">80</text>
<line x1="32.5" y1="260.5" x2="48.2" y2="260.5" stroke="#1a1a1a" stroke-width="1"/>
<line x1="48.2" y1="258.5" x2="48.2" y2="262.5" stroke="#444" stroke-width="1"/>
<line x1="43.3" y1="260.5" x2="43.3" y2="263.5" stroke="#1a1a1a" stroke-width="1"/>
<text x="43.30" y="273.60" font-size="8.14" text-anchor="middle" font-weight="normal" fill="#333"  stroke-width="0" textLength="4.31" lengthAdjust="spacingAndGlyphs">0</text>
<line x1="54.5" y1="260.5" x2="167.9" y2="260.5" stroke="#1a1a1a" stroke-width="1"/>
<line x1="54.5" y1="258.5" x2="54.5" y2="262.5" stroke="#444" stroke-width="1"/>
<line x1="60.38" y1="260.5" x2="60.38" y2="262.1" stroke="#1a1a1a" stroke-width="0.8"/>
<line x1="68.85" y1="260.5" x2="68.85" y2="262.1" stroke="#1a1a1a" stroke-width="0.8"/>
<line x1="74.86" y1="260.5" x2="74.86" y2="262.1" stroke="#1a1a1a" stroke-width="0.8"/>
<line x1="79.52" y1="260.5" x2="79.52" y2="262.1" stroke="#1a1a1a" stroke-width="0.8"/>
<line x1="83.33" y1="260.5" x2="83.33" y2="262.1" stroke="#1a1a1a" stroke-width="0.8"/>
<line x1="86.55" y1="260.5" x2="86.55" y2="262.1" stroke="#1a1a1a" stroke-width="0.8"/>
<line x1="89.34" y1="260.5" x2="89.34" y2="262.1" stroke="#1a1a1a" stroke-width="0.8"/>
<line x1="91.80" y1="260.5" x2="91.80" y2="262.1" stroke="#1a1a1a" stroke-width="0.8"/>
<line x1="94.00" y1="260.5" x2="94.00" y2="263.5" stroke="#1a1a1a" stroke-width="0.8"/>
<line x1="108.48" y1="260.5" x2="108.48" y2="262.1" stroke="#1a1a1a" stroke-width="0.8"/>
<line x1="116.95" y1="260.5" x2="116.95" y2="262.1" stroke="#1a1a1a" stroke-width="0.8"/>
<line x1="122.96" y1="260.5" x2="122.96" y2="262.1" stroke="#1a1a1a" stroke-width="0.8"/>
<line x1="127.62" y1="260.5" x2="127.62" y2="262.1" stroke="#1a1a1a" stroke-width="0.8"/>
<line x1="131.43" y1="260.5" x2="131.43" y2="262.1" stroke="#1a1a1a" stroke-width="0.8"/>
<line x1="134.65" y1="260.5" x2="134.65" y2="262.1" stroke="#1a1a1a" stroke-width="0.8"/>
<line x1="137.44" y1="260.5" x2="137.44" y2="262.1" stroke="#1a1a1a" stroke-width="0.8"/>
<line x1="139.90" y1="260.5" x2="139.90" y2="262.1" stroke="#1a1a1a" stroke-width="0.8"/>
<line x1="142.10" y1="260.5" x2="142.10" y2="263.5" stroke="#1a1a1a" stroke-width="0.8"/>
<line x1="156.58" y1="260.5" x2="156.58" y2="262.1" stroke="#1a1a1a" stroke-width="0.8"/>
<line x1="165.05" y1="260.5" x2="165.05" y2="262.1" stroke="#1a1a1a" stroke-width="0.8"/>
<text x="94.40" y="273.60" font-size="8.14" text-anchor="middle" font-weight="normal" fill="#333"  stroke-width="0" textLength="8.62" lengthAdjust="spacingAndGlyphs">10</text>
<text x="142.50" y="273.60" font-size="8.14" text-anchor="middle" font-weight="normal" fill="#333"  stroke-width="0" textLength="12.93" lengthAdjust="spacingAndGlyphs">100</text>
<text x="101.20" y="285.90" font-size="8.2" text-anchor="middle" font-weight="normal" fill="#1a1a1a"  stroke="#1a1a1a" stroke-width="0.25" textLength="32.2" lengthAdjust="spacingAndGlyphs">FVIIa (nM)</text>
<text transform="translate(14.4,215.70) rotate(-90)" x="0" y="0" font-size="9.0" text-anchor="middle" font-weight="normal" fill="#222" stroke="#222" stroke-width="0.25" textLength="82.8" lengthAdjust="spacingAndGlyphs">NATEM alpha angle (degree)</text>
<path d="M54.50,214.53 L57.30,211.70 L60.10,209.20 L62.90,207.01 L65.70,205.09 L68.50,203.39 L71.30,201.91 L74.10,200.60 L76.90,199.45 L79.70,198.44 L82.50,197.55 L85.30,196.77 L88.10,196.09 L90.90,195.48 L93.70,194.95 L96.50,194.49 L99.30,194.08 L102.10,193.72 L104.90,193.40 L107.70,193.12 L110.50,192.88 L113.30,192.67 L116.10,192.48 L118.90,192.31 L121.70,192.16 L124.50,192.04 L127.30,191.92 L130.10,191.82 L132.90,191.74 L135.70,191.66 L138.50,191.59 L141.30,191.54 L144.10,191.48 L146.90,191.44 L149.70,191.40 L152.50,191.36 L155.30,191.33 L158.10,191.30 L160.90,191.28 L163.70,191.26 L166.50,191.24" fill="none" stroke="#4a77a0" stroke-width="1" />
<path d="M54.50,203.46 L57.30,203.45 L60.10,203.44 L62.90,203.42 L65.70,203.41 L68.50,203.38 L71.30,203.35 L74.10,203.31 L76.90,203.25 L79.70,203.18 L82.50,203.08 L85.30,202.95 L88.10,202.79 L90.90,202.58 L93.70,202.30 L96.50,201.95 L99.30,201.50 L102.10,200.93 L104.90,200.23 L107.70,199.39 L110.50,198.38 L113.30,197.22 L116.10,195.92 L118.90,194.51 L121.70,193.03 L124.50,191.55 L127.30,190.13 L130.10,188.80 L132.90,187.60 L135.70,186.56 L138.50,185.68 L141.30,184.96 L144.10,184.36 L146.90,183.89 L149.70,183.52 L152.50,183.23 L155.30,183.00 L158.10,182.82 L160.90,182.69 L163.70,182.59 L166.50,182.51" fill="none" stroke="#cc2c4a" stroke-width="1" />
<path d="M54.50,207.88 L57.30,207.87 L60.10,207.87 L62.90,207.85 L65.70,207.84 L68.50,207.82 L71.30,207.79 L74.10,207.76 L76.90,207.71 L79.70,207.65 L82.50,207.57 L85.30,207.47 L88.10,207.34 L90.90,207.17 L93.70,206.96 L96.50,206.70 L99.30,206.38 L102.10,205.99 L104.90,205.54 L107.70,205.03 L110.50,204.46 L113.30,203.86 L116.10,203.24 L118.90,202.63 L121.70,202.05 L124.50,201.53 L127.30,201.06 L130.10,200.66 L132.90,200.33 L135.70,200.05 L138.50,199.83 L141.30,199.66 L144.10,199.52 L146.90,199.41 L149.70,199.33 L152.50,199.27 L155.30,199.22 L158.10,199.18 L160.90,199.15 L163.70,199.13 L166.50,199.11" fill="none" stroke="#cc2c4a" stroke-width="0.9" stroke-dasharray="1.2,1"/>
<path d="M54.50,217.98 L57.30,217.95 L60.10,217.90 L62.90,217.82 L65.70,217.73 L68.50,217.59 L71.30,217.39 L74.10,217.13 L76.90,216.78 L79.70,216.30 L82.50,215.69 L85.30,214.93 L88.10,214.00 L90.90,212.94 L93.70,211.77 L96.50,210.58 L99.30,209.42 L102.10,208.36 L104.90,207.45 L107.70,206.69 L110.50,206.09 L113.30,205.63 L116.10,205.28 L118.90,205.02 L121.70,204.84 L124.50,204.70 L127.30,204.60 L130.10,204.53 L132.90,204.48 L135.70,204.45 L138.50,204.43 L141.30,204.41 L144.10,204.40 L146.90,204.39 L149.70,204.38 L152.50,204.38 L155.30,204.37 L158.10,204.37 L160.90,204.37 L163.70,204.37 L166.50,204.37" fill="none" stroke="#4a77a0" stroke-width="0.9" stroke-dasharray="1.2,1"/>
<line x1="43.3" y1="221.16" x2="47.8" y2="213.65" stroke="#4a77a0" stroke-width="1" />
<line x1="43.3" y1="210.78" x2="43.3" y2="224.03" stroke="#8eaac4" stroke-width="1"/>
<line x1="41.5" y1="210.78" x2="45.099999999999994" y2="210.78" stroke="#8eaac4" stroke-width="1"/>
<line x1="41.5" y1="224.03" x2="45.099999999999994" y2="224.03" stroke="#8eaac4" stroke-width="1"/>
<circle cx="43.3" cy="217.41" r="1.8" fill="#fff" stroke="#3f6a93" stroke-width="1"/>
<line x1="69.9" y1="203.04" x2="69.9" y2="233.98" stroke="#8eaac4" stroke-width="1"/>
<line x1="68.10000000000001" y1="203.04" x2="71.7" y2="203.04" stroke="#8eaac4" stroke-width="1"/>
<line x1="68.10000000000001" y1="233.98" x2="71.7" y2="233.98" stroke="#8eaac4" stroke-width="1"/>
<circle cx="69.9" cy="218.51" r="1.8" fill="#fff" stroke="#3f6a93" stroke-width="1"/>
<line x1="94.0" y1="193.32" x2="94.0" y2="228.68" stroke="#8eaac4" stroke-width="1"/>
<line x1="92.2" y1="193.32" x2="95.8" y2="193.32" stroke="#8eaac4" stroke-width="1"/>
<line x1="92.2" y1="228.68" x2="95.8" y2="228.68" stroke="#8eaac4" stroke-width="1"/>
<circle cx="94.0" cy="211.00" r="1.8" fill="#fff" stroke="#3f6a93" stroke-width="1"/>
<line x1="118.2" y1="192.43" x2="118.2" y2="218.95" stroke="#8eaac4" stroke-width="1"/>
<line x1="116.4" y1="192.43" x2="120.0" y2="192.43" stroke="#8eaac4" stroke-width="1"/>
<line x1="116.4" y1="218.95" x2="120.0" y2="218.95" stroke="#8eaac4" stroke-width="1"/>
<circle cx="118.2" cy="205.69" r="1.8" fill="#fff" stroke="#3f6a93" stroke-width="1"/>
<line x1="142.1" y1="189.78" x2="142.1" y2="216.30" stroke="#8eaac4" stroke-width="1"/>
<line x1="140.29999999999998" y1="189.78" x2="143.9" y2="189.78" stroke="#8eaac4" stroke-width="1"/>
<line x1="140.29999999999998" y1="216.30" x2="143.9" y2="216.30" stroke="#8eaac4" stroke-width="1"/>
<circle cx="142.1" cy="203.04" r="1.8" fill="#fff" stroke="#3f6a93" stroke-width="1"/>
<line x1="165.6" y1="191.99" x2="165.6" y2="218.51" stroke="#8eaac4" stroke-width="1"/>
<line x1="163.79999999999998" y1="191.99" x2="167.4" y2="191.99" stroke="#8eaac4" stroke-width="1"/>
<line x1="163.79999999999998" y1="218.51" x2="167.4" y2="218.51" stroke="#8eaac4" stroke-width="1"/>
<circle cx="165.6" cy="205.25" r="1.8" fill="#fff" stroke="#3f6a93" stroke-width="1"/>
<line x1="43.3" y1="200.39" x2="43.3" y2="209.23" stroke="#d98a9a" stroke-width="1"/>
<line x1="41.5" y1="200.39" x2="45.099999999999994" y2="200.39" stroke="#d98a9a" stroke-width="1"/>
<line x1="41.5" y1="209.23" x2="45.099999999999994" y2="209.23" stroke="#d98a9a" stroke-width="1"/>
<circle cx="43.3" cy="204.81" r="1.8" fill="#fff" stroke="#c83350" stroke-width="1"/>
<line x1="69.9" y1="197.74" x2="69.9" y2="224.26" stroke="#d98a9a" stroke-width="1"/>
<line x1="68.10000000000001" y1="197.74" x2="71.7" y2="197.74" stroke="#d98a9a" stroke-width="1"/>
<line x1="68.10000000000001" y1="224.26" x2="71.7" y2="224.26" stroke="#d98a9a" stroke-width="1"/>
<circle cx="69.9" cy="211.00" r="1.8" fill="#fff" stroke="#c83350" stroke-width="1"/>
<line x1="94.0" y1="191.55" x2="94.0" y2="226.91" stroke="#d98a9a" stroke-width="1"/>
<line x1="92.2" y1="191.55" x2="95.8" y2="191.55" stroke="#d98a9a" stroke-width="1"/>
<line x1="92.2" y1="226.91" x2="95.8" y2="226.91" stroke="#d98a9a" stroke-width="1"/>
<circle cx="94.0" cy="209.23" r="1.8" fill="#fff" stroke="#c83350" stroke-width="1"/>
<line x1="118.2" y1="190.22" x2="118.2" y2="221.16" stroke="#d98a9a" stroke-width="1"/>
<line x1="116.4" y1="190.22" x2="120.0" y2="190.22" stroke="#d98a9a" stroke-width="1"/>
<line x1="116.4" y1="221.16" x2="120.0" y2="221.16" stroke="#d98a9a" stroke-width="1"/>
<circle cx="118.2" cy="205.69" r="1.8" fill="#fff" stroke="#c83350" stroke-width="1"/>
<line x1="142.1" y1="184.92" x2="142.1" y2="215.86" stroke="#d98a9a" stroke-width="1"/>
<line x1="140.29999999999998" y1="184.92" x2="143.9" y2="184.92" stroke="#d98a9a" stroke-width="1"/>
<line x1="140.29999999999998" y1="215.86" x2="143.9" y2="215.86" stroke="#d98a9a" stroke-width="1"/>
<circle cx="142.1" cy="200.39" r="1.8" fill="#fff" stroke="#c83350" stroke-width="1"/>
<line x1="165.6" y1="190.66" x2="165.6" y2="208.34" stroke="#d98a9a" stroke-width="1"/>
<line x1="163.79999999999998" y1="190.66" x2="167.4" y2="190.66" stroke="#d98a9a" stroke-width="1"/>
<line x1="163.79999999999998" y1="208.34" x2="167.4" y2="208.34" stroke="#d98a9a" stroke-width="1"/>
<circle cx="165.6" cy="199.50" r="1.8" fill="#fff" stroke="#c83350" stroke-width="1"/>
<line x1="43.3" y1="210.55" x2="43.3" y2="233.54" stroke="#8eaac4" stroke-width="1"/>
<line x1="41.5" y1="210.55" x2="45.099999999999994" y2="210.55" stroke="#8eaac4" stroke-width="1"/>
<line x1="41.5" y1="233.54" x2="45.099999999999994" y2="233.54" stroke="#8eaac4" stroke-width="1"/>
<circle cx="43.3" cy="222.05" r="2.25" fill="#1c4561"/>
<line x1="69.9" y1="193.76" x2="69.9" y2="211.44" stroke="#8eaac4" stroke-width="1"/>
<line x1="68.10000000000001" y1="193.76" x2="71.7" y2="193.76" stroke="#8eaac4" stroke-width="1"/>
<line x1="68.10000000000001" y1="211.44" x2="71.7" y2="211.44" stroke="#8eaac4" stroke-width="1"/>
<circle cx="69.9" cy="202.60" r="2.25" fill="#1c4561"/>
<line x1="94.0" y1="188.90" x2="94.0" y2="202.16" stroke="#8eaac4" stroke-width="1"/>
<line x1="92.2" y1="188.90" x2="95.8" y2="188.90" stroke="#8eaac4" stroke-width="1"/>
<line x1="92.2" y1="202.16" x2="95.8" y2="202.16" stroke="#8eaac4" stroke-width="1"/>
<circle cx="94.0" cy="195.53" r="2.25" fill="#1c4561"/>
<line x1="118.2" y1="184.92" x2="118.2" y2="193.76" stroke="#8eaac4" stroke-width="1"/>
<line x1="116.4" y1="184.92" x2="120.0" y2="184.92" stroke="#8eaac4" stroke-width="1"/>
<line x1="116.4" y1="193.76" x2="120.0" y2="193.76" stroke="#8eaac4" stroke-width="1"/>
<circle cx="118.2" cy="189.34" r="2.25" fill="#1c4561"/>
<line x1="142.1" y1="183.15" x2="142.1" y2="196.41" stroke="#8eaac4" stroke-width="1"/>
<line x1="140.29999999999998" y1="183.15" x2="143.9" y2="183.15" stroke="#8eaac4" stroke-width="1"/>
<line x1="140.29999999999998" y1="196.41" x2="143.9" y2="196.41" stroke="#8eaac4" stroke-width="1"/>
<circle cx="142.1" cy="189.78" r="2.25" fill="#1c4561"/>
<line x1="165.6" y1="190.22" x2="165.6" y2="200.83" stroke="#8eaac4" stroke-width="1"/>
<line x1="163.79999999999998" y1="190.22" x2="167.4" y2="190.22" stroke="#8eaac4" stroke-width="1"/>
<line x1="163.79999999999998" y1="200.83" x2="167.4" y2="200.83" stroke="#8eaac4" stroke-width="1"/>
<circle cx="165.6" cy="195.53" r="2.25" fill="#1c4561"/>
<line x1="43.3" y1="195.97" x2="43.3" y2="204.81" stroke="#d98a9a" stroke-width="1"/>
<line x1="41.5" y1="195.97" x2="45.099999999999994" y2="195.97" stroke="#d98a9a" stroke-width="1"/>
<line x1="41.5" y1="204.81" x2="45.099999999999994" y2="204.81" stroke="#d98a9a" stroke-width="1"/>
<circle cx="43.3" cy="200.39" r="2.25" fill="#bc1036"/>
<line x1="69.9" y1="193.76" x2="69.9" y2="215.86" stroke="#d98a9a" stroke-width="1"/>
<line x1="68.10000000000001" y1="193.76" x2="71.7" y2="193.76" stroke="#d98a9a" stroke-width="1"/>
<line x1="68.10000000000001" y1="215.86" x2="71.7" y2="215.86" stroke="#d98a9a" stroke-width="1"/>
<circle cx="69.9" cy="204.81" r="2.25" fill="#bc1036"/>
<line x1="94.0" y1="193.76" x2="94.0" y2="211.44" stroke="#d98a9a" stroke-width="1"/>
<line x1="92.2" y1="193.76" x2="95.8" y2="193.76" stroke="#d98a9a" stroke-width="1"/>
<line x1="92.2" y1="211.44" x2="95.8" y2="211.44" stroke="#d98a9a" stroke-width="1"/>
<circle cx="94.0" cy="202.60" r="2.25" fill="#bc1036"/>
<line x1="118.2" y1="186.24" x2="118.2" y2="203.92" stroke="#d98a9a" stroke-width="1"/>
<line x1="116.4" y1="186.24" x2="120.0" y2="186.24" stroke="#d98a9a" stroke-width="1"/>
<line x1="116.4" y1="203.92" x2="120.0" y2="203.92" stroke="#d98a9a" stroke-width="1"/>
<circle cx="118.2" cy="195.08" r="2.25" fill="#bc1036"/>
<line x1="142.1" y1="180.50" x2="142.1" y2="191.11" stroke="#d98a9a" stroke-width="1"/>
<line x1="140.29999999999998" y1="180.50" x2="143.9" y2="180.50" stroke="#d98a9a" stroke-width="1"/>
<line x1="140.29999999999998" y1="191.11" x2="143.9" y2="191.11" stroke="#d98a9a" stroke-width="1"/>
<circle cx="142.1" cy="185.80" r="2.25" fill="#bc1036"/>
<line x1="165.6" y1="179.61" x2="165.6" y2="186.69" stroke="#d98a9a" stroke-width="1"/>
<line x1="163.79999999999998" y1="179.61" x2="167.4" y2="179.61" stroke="#d98a9a" stroke-width="1"/>
<line x1="163.79999999999998" y1="186.69" x2="167.4" y2="186.69" stroke="#d98a9a" stroke-width="1"/>
<circle cx="165.6" cy="183.15" r="2.25" fill="#bc1036"/>
<line x1="172.3" y1="178.3" x2="181.5" y2="178.3" stroke="#cc2c4a" stroke-width="1"/>
<circle cx="177.1" cy="178.3" r="2.1" fill="#bc1036"/>
<text x="184.80" y="181.20" font-size="8.6" text-anchor="start" font-weight="normal" fill="#1a1a1a" stroke="#1a1a1a" stroke-width="0.17" textLength="24.6" lengthAdjust="spacingAndGlyphs">CT-001</text>
<line x1="172.3" y1="190.3" x2="181.5" y2="190.3" stroke="#4a77a0" stroke-width="1"/>
<circle cx="177.1" cy="190.3" r="2.1" fill="#1c4561"/>
<text x="184.80" y="193.10" font-size="8.6" text-anchor="start" font-weight="normal" fill="#1a1a1a" stroke="#1a1a1a" stroke-width="0.17" textLength="19.2" lengthAdjust="spacingAndGlyphs">rFVIIa</text>
<line x1="172.3" y1="201.8" x2="181.5" y2="201.8" stroke="#e08aa0" stroke-width="1" stroke-dasharray="1.2,1"/>
<circle cx="177.1" cy="201.8" r="1.7" fill="#fff" stroke="#d4587a" stroke-width="1"/>
<text x="184.80" y="204.30" font-size="8.6" text-anchor="start" font-weight="normal" fill="#1a1a1a" stroke="#1a1a1a" stroke-width="0.17" textLength="24.6" lengthAdjust="spacingAndGlyphs">CT-001</text>
<line x1="172.3" y1="213.20000000000002" x2="181.5" y2="213.20000000000002" stroke="#92b0cc" stroke-width="1" stroke-dasharray="1.2,1"/>
<circle cx="177.1" cy="213.20000000000002" r="1.7" fill="#fff" stroke="#6a8db3" stroke-width="1"/>
<text x="184.80" y="215.60" font-size="8.6" text-anchor="start" font-weight="normal" fill="#1a1a1a" stroke="#1a1a1a" stroke-width="0.17" textLength="19.2" lengthAdjust="spacingAndGlyphs">rFVIIa</text>
<path d="M212.3,173.9 H215.8 V194.3 H212.3" fill="none" stroke="#222" stroke-width="1"/>
<path d="M212.3,197.3 H215.8 V217.8 H212.3" fill="none" stroke="#222" stroke-width="1"/>
<text x="219.60" y="182.30" font-size="8.6" text-anchor="start" font-weight="normal" fill="#1a1a1a" stroke="#1a1a1a" stroke-width="0.17" textLength="22.2" lengthAdjust="spacingAndGlyphs">Before</text>
<text x="219.60" y="192.50" font-size="8.6" text-anchor="start" font-weight="normal" fill="#1a1a1a" stroke="#1a1a1a" stroke-width="0.17" textLength="25.7" lengthAdjust="spacingAndGlyphs">Delivery</text>
<text x="219.60" y="206.30" font-size="8.6" text-anchor="start" font-weight="normal" fill="#1a1a1a" stroke="#1a1a1a" stroke-width="0.17" textLength="16" lengthAdjust="spacingAndGlyphs">After</text>
<text x="219.60" y="216.30" font-size="8.6" text-anchor="start" font-weight="normal" fill="#1a1a1a" stroke="#1a1a1a" stroke-width="0.17" textLength="25.7" lengthAdjust="spacingAndGlyphs">Delivery</text>
<text x="267.10" y="165.00" font-size="11.2" text-anchor="start" font-weight="bold" fill="#000"  stroke="#000" stroke-width="0.45">D</text>
<line x1="299.8" y1="169.30" x2="299.8" y2="260.5" stroke="#1a1a1a" stroke-width="1"/>
<line x1="296.8" y1="260.40" x2="299.8" y2="260.40" stroke="#1a1a1a" stroke-width="1"/>
<text x="293.80" y="263.80" font-size="8.56" text-anchor="end" font-weight="normal" fill="#333"  stroke-width="0" textLength="13.35" lengthAdjust="spacingAndGlyphs">100</text>
<line x1="296.8" y1="247.80" x2="299.8" y2="247.80" stroke="#1a1a1a" stroke-width="1"/>
<text x="293.80" y="251.20" font-size="8.56" text-anchor="end" font-weight="normal" fill="#333"  stroke-width="0" textLength="13.35" lengthAdjust="spacingAndGlyphs">150</text>
<line x1="296.8" y1="235.20" x2="299.8" y2="235.20" stroke="#1a1a1a" stroke-width="1"/>
<text x="293.80" y="238.60" font-size="8.56" text-anchor="end" font-weight="normal" fill="#333"  stroke-width="0" textLength="13.35" lengthAdjust="spacingAndGlyphs">200</text>
<line x1="296.8" y1="222.60" x2="299.8" y2="222.60" stroke="#1a1a1a" stroke-width="1"/>
<text x="293.80" y="226.00" font-size="8.56" text-anchor="end" font-weight="normal" fill="#333"  stroke-width="0" textLength="13.35" lengthAdjust="spacingAndGlyphs">250</text>
<line x1="296.8" y1="210.00" x2="299.8" y2="210.00" stroke="#1a1a1a" stroke-width="1"/>
<text x="293.80" y="213.40" font-size="8.56" text-anchor="end" font-weight="normal" fill="#333"  stroke-width="0" textLength="13.35" lengthAdjust="spacingAndGlyphs">300</text>
<line x1="296.8" y1="197.40" x2="299.8" y2="197.40" stroke="#1a1a1a" stroke-width="1"/>
<text x="293.80" y="200.80" font-size="8.56" text-anchor="end" font-weight="normal" fill="#333"  stroke-width="0" textLength="13.35" lengthAdjust="spacingAndGlyphs">350</text>
<line x1="296.8" y1="184.80" x2="299.8" y2="184.80" stroke="#1a1a1a" stroke-width="1"/>
<text x="293.80" y="188.20" font-size="8.56" text-anchor="end" font-weight="normal" fill="#333"  stroke-width="0" textLength="13.35" lengthAdjust="spacingAndGlyphs">400</text>
<line x1="296.8" y1="172.20" x2="299.8" y2="172.20" stroke="#1a1a1a" stroke-width="1"/>
<text x="293.80" y="175.60" font-size="8.56" text-anchor="end" font-weight="normal" fill="#333"  stroke-width="0" textLength="13.35" lengthAdjust="spacingAndGlyphs">450</text>
<line x1="296.8" y1="260.5" x2="312.5" y2="260.5" stroke="#1a1a1a" stroke-width="1"/>
<line x1="312.5" y1="258.5" x2="312.5" y2="262.5" stroke="#444" stroke-width="1"/>
<line x1="307.6" y1="260.5" x2="307.6" y2="263.5" stroke="#1a1a1a" stroke-width="1"/>
<text x="307.60" y="273.60" font-size="8.14" text-anchor="middle" font-weight="normal" fill="#333"  stroke-width="0" textLength="4.31" lengthAdjust="spacingAndGlyphs">0</text>
<line x1="318.8" y1="260.5" x2="432.20000000000005" y2="260.5" stroke="#1a1a1a" stroke-width="1"/>
<line x1="318.8" y1="258.5" x2="318.8" y2="262.5" stroke="#444" stroke-width="1"/>
<line x1="324.68" y1="260.5" x2="324.68" y2="262.1" stroke="#1a1a1a" stroke-width="0.8"/>
<line x1="333.15" y1="260.5" x2="333.15" y2="262.1" stroke="#1a1a1a" stroke-width="0.8"/>
<line x1="339.16" y1="260.5" x2="339.16" y2="262.1" stroke="#1a1a1a" stroke-width="0.8"/>
<line x1="343.82" y1="260.5" x2="343.82" y2="262.1" stroke="#1a1a1a" stroke-width="0.8"/>
<line x1="347.63" y1="260.5" x2="347.63" y2="262.1" stroke="#1a1a1a" stroke-width="0.8"/>
<line x1="350.85" y1="260.5" x2="350.85" y2="262.1" stroke="#1a1a1a" stroke-width="0.8"/>
<line x1="353.64" y1="260.5" x2="353.64" y2="262.1" stroke="#1a1a1a" stroke-width="0.8"/>
<line x1="356.10" y1="260.5" x2="356.10" y2="262.1" stroke="#1a1a1a" stroke-width="0.8"/>
<line x1="358.30" y1="260.5" x2="358.30" y2="263.5" stroke="#1a1a1a" stroke-width="0.8"/>
<line x1="372.78" y1="260.5" x2="372.78" y2="262.1" stroke="#1a1a1a" stroke-width="0.8"/>
<line x1="381.25" y1="260.5" x2="381.25" y2="262.1" stroke="#1a1a1a" stroke-width="0.8"/>
<line x1="387.26" y1="260.5" x2="387.26" y2="262.1" stroke="#1a1a1a" stroke-width="0.8"/>
<line x1="391.92" y1="260.5" x2="391.92" y2="262.1" stroke="#1a1a1a" stroke-width="0.8"/>
<line x1="395.73" y1="260.5" x2="395.73" y2="262.1" stroke="#1a1a1a" stroke-width="0.8"/>
<line x1="398.95" y1="260.5" x2="398.95" y2="262.1" stroke="#1a1a1a" stroke-width="0.8"/>
<line x1="401.74" y1="260.5" x2="401.74" y2="262.1" stroke="#1a1a1a" stroke-width="0.8"/>
<line x1="404.20" y1="260.5" x2="404.20" y2="262.1" stroke="#1a1a1a" stroke-width="0.8"/>
<line x1="406.40" y1="260.5" x2="406.40" y2="263.5" stroke="#1a1a1a" stroke-width="0.8"/>
<line x1="420.88" y1="260.5" x2="420.88" y2="262.1" stroke="#1a1a1a" stroke-width="0.8"/>
<line x1="429.35" y1="260.5" x2="429.35" y2="262.1" stroke="#1a1a1a" stroke-width="0.8"/>
<text x="358.70" y="273.60" font-size="8.14" text-anchor="middle" font-weight="normal" fill="#333"  stroke-width="0" textLength="8.62" lengthAdjust="spacingAndGlyphs">10</text>
<text x="406.80" y="273.60" font-size="8.14" text-anchor="middle" font-weight="normal" fill="#333"  stroke-width="0" textLength="12.93" lengthAdjust="spacingAndGlyphs">100</text>
<text x="365.50" y="285.90" font-size="8.2" text-anchor="middle" font-weight="normal" fill="#1a1a1a"  stroke="#1a1a1a" stroke-width="0.25" textLength="32.2" lengthAdjust="spacingAndGlyphs">FVIIa (nM)</text>
<text transform="translate(275.2,215.75) rotate(-90)" x="0" y="0" font-size="10.4" text-anchor="middle" font-weight="normal" fill="#222" stroke="#222" stroke-width="0.25" textLength="40.6" lengthAdjust="spacingAndGlyphs">NATEM CT (s)</text>
<path d="M318.80,188.64 L321.60,190.50 L324.40,192.33 L327.20,194.12 L330.00,195.88 L332.80,197.60 L335.60,199.28 L338.40,200.93 L341.20,202.54 L344.00,204.12 L346.80,205.66 L349.60,207.16 L352.40,208.63 L355.20,210.06 L358.00,211.45 L360.80,212.81 L363.60,214.13 L366.40,215.42 L369.20,216.67 L372.00,217.88 L374.80,219.06 L377.60,220.20 L380.40,221.31 L383.20,222.38 L386.00,223.41 L388.80,224.41 L391.60,225.37 L394.40,226.29 L397.20,227.18 L400.00,228.03 L402.80,228.85 L405.60,229.63 L408.40,230.37 L411.20,231.08 L414.00,231.75 L416.80,232.38 L419.60,232.98 L422.40,233.54 L425.20,234.07 L428.00,234.56 L430.80,235.01" fill="none" stroke="#4a77a0" stroke-width="1" />
<path d="M318.80,198.69 L321.60,200.23 L324.40,201.75 L327.20,203.26 L330.00,204.75 L332.80,206.23 L335.60,207.70 L338.40,209.15 L341.20,210.59 L344.00,212.01 L346.80,213.42 L349.60,214.82 L352.40,216.20 L355.20,217.57 L358.00,218.93 L360.80,220.27 L363.60,221.60 L366.40,222.91 L369.20,224.21 L372.00,225.50 L374.80,226.77 L377.60,228.03 L380.40,229.28 L383.20,230.51 L386.00,231.73 L388.80,232.93 L391.60,234.12 L394.40,235.30 L397.20,236.46 L400.00,237.61 L402.80,238.74 L405.60,239.86 L408.40,240.97 L411.20,242.07 L414.00,243.15 L416.80,244.21 L419.60,245.26 L422.40,246.30 L425.20,247.33 L428.00,248.34 L430.80,249.33" fill="none" stroke="#cc2c4a" stroke-width="1" />
<path d="M318.80,205.64 L321.60,207.19 L324.40,208.70 L327.20,210.19 L330.00,211.64 L332.80,213.06 L335.60,214.45 L338.40,215.81 L341.20,217.13 L344.00,218.43 L346.80,219.69 L349.60,220.92 L352.40,222.12 L355.20,223.29 L358.00,224.42 L360.80,225.53 L363.60,226.60 L366.40,227.64 L369.20,228.65 L372.00,229.63 L374.80,230.58 L377.60,231.49 L380.40,232.37 L383.20,233.23 L386.00,234.05 L388.80,234.83 L391.60,235.59 L394.40,236.31 L397.20,237.01 L400.00,237.67 L402.80,238.30 L405.60,238.90 L408.40,239.46 L411.20,240.00 L414.00,240.50 L416.80,240.97 L419.60,241.41 L422.40,241.82 L425.20,242.20 L428.00,242.55 L430.80,242.86" fill="none" stroke="#4a77a0" stroke-width="0.9" stroke-dasharray="1.2,1"/>
<path d="M318.80,211.57 L321.60,212.73 L324.40,213.88 L327.20,215.02 L330.00,216.16 L332.80,217.29 L335.60,218.42 L338.40,219.54 L341.20,220.65 L344.00,221.76 L346.80,222.86 L349.60,223.96 L352.40,225.05 L355.20,226.13 L358.00,227.21 L360.80,228.28 L363.60,229.34 L366.40,230.40 L369.20,231.46 L372.00,232.50 L374.80,233.54 L377.60,234.58 L380.40,235.61 L383.20,236.63 L386.00,237.65 L388.80,238.66 L391.60,239.66 L394.40,240.66 L397.20,241.66 L400.00,242.64 L402.80,243.62 L405.60,244.60 L408.40,245.57 L411.20,246.53 L414.00,247.49 L416.80,248.44 L419.60,249.38 L422.40,250.32 L425.20,251.25 L428.00,252.18 L430.80,253.10" fill="none" stroke="#cc2c4a" stroke-width="0.9" stroke-dasharray="1.2,1"/>
<line x1="300.8" y1="217.81" x2="431.8" y2="217.81" stroke="#777" stroke-width="0.9" stroke-dasharray="1,1"/>
<line x1="307.6" y1="181.78" x2="312.6" y2="187.82" stroke="#4a77a0" stroke-width="1" />
<line x1="307.6" y1="192.86" x2="312.6" y2="197.40" stroke="#cc2c4a" stroke-width="1" />
<line x1="307.6" y1="200.42" x2="312.6" y2="204.96" stroke="#4a77a0" stroke-width="1" stroke-dasharray="1.2,1"/>
<line x1="307.6" y1="208.49" x2="312.6" y2="211.26" stroke="#cc2c4a" stroke-width="1" stroke-dasharray="1.2,1"/>
<line x1="307.6" y1="197.40" x2="307.6" y2="203.45" stroke="#8eaac4" stroke-width="1"/>
<line x1="305.8" y1="197.40" x2="309.40000000000003" y2="197.40" stroke="#8eaac4" stroke-width="1"/>
<line x1="305.8" y1="203.45" x2="309.40000000000003" y2="203.45" stroke="#8eaac4" stroke-width="1"/>
<circle cx="307.6" cy="200.42" r="1.8" fill="#fff" stroke="#3f6a93" stroke-width="1"/>
<line x1="334.20000000000005" y1="211.26" x2="334.20000000000005" y2="218.82" stroke="#8eaac4" stroke-width="1"/>
<line x1="332.40000000000003" y1="211.26" x2="336.00000000000006" y2="211.26" stroke="#8eaac4" stroke-width="1"/>
<line x1="332.40000000000003" y1="218.82" x2="336.00000000000006" y2="218.82" stroke="#8eaac4" stroke-width="1"/>
<circle cx="334.20000000000005" cy="215.04" r="1.8" fill="#fff" stroke="#3f6a93" stroke-width="1"/>
<line x1="358.3" y1="221.59" x2="358.3" y2="227.64" stroke="#8eaac4" stroke-width="1"/>
<line x1="356.5" y1="221.59" x2="360.1" y2="221.59" stroke="#8eaac4" stroke-width="1"/>
<line x1="356.5" y1="227.64" x2="360.1" y2="227.64" stroke="#8eaac4" stroke-width="1"/>
<circle cx="358.3" cy="224.62" r="1.8" fill="#fff" stroke="#3f6a93" stroke-width="1"/>
<line x1="382.5" y1="230.66" x2="382.5" y2="234.70" stroke="#8eaac4" stroke-width="1"/>
<line x1="380.7" y1="230.66" x2="384.3" y2="230.66" stroke="#8eaac4" stroke-width="1"/>
<line x1="380.7" y1="234.70" x2="384.3" y2="234.70" stroke="#8eaac4" stroke-width="1"/>
<circle cx="382.5" cy="232.68" r="1.8" fill="#fff" stroke="#3f6a93" stroke-width="1"/>
<line x1="406.4" y1="231.67" x2="406.4" y2="236.71" stroke="#8eaac4" stroke-width="1"/>
<line x1="404.59999999999997" y1="231.67" x2="408.2" y2="231.67" stroke="#8eaac4" stroke-width="1"/>
<line x1="404.59999999999997" y1="236.71" x2="408.2" y2="236.71" stroke="#8eaac4" stroke-width="1"/>
<circle cx="406.4" cy="234.19" r="1.8" fill="#fff" stroke="#3f6a93" stroke-width="1"/>
<line x1="429.9" y1="243.01" x2="429.9" y2="247.04" stroke="#8eaac4" stroke-width="1"/>
<line x1="428.09999999999997" y1="243.01" x2="431.7" y2="243.01" stroke="#8eaac4" stroke-width="1"/>
<line x1="428.09999999999997" y1="247.04" x2="431.7" y2="247.04" stroke="#8eaac4" stroke-width="1"/>
<circle cx="429.9" cy="245.03" r="1.8" fill="#fff" stroke="#3f6a93" stroke-width="1"/>
<line x1="307.6" y1="204.71" x2="307.6" y2="212.27" stroke="#d98a9a" stroke-width="1"/>
<line x1="305.8" y1="204.71" x2="309.40000000000003" y2="204.71" stroke="#d98a9a" stroke-width="1"/>
<line x1="305.8" y1="212.27" x2="309.40000000000003" y2="212.27" stroke="#d98a9a" stroke-width="1"/>
<circle cx="307.6" cy="208.49" r="1.8" fill="#fff" stroke="#c83350" stroke-width="1"/>
<line x1="334.20000000000005" y1="212.02" x2="334.20000000000005" y2="222.10" stroke="#d98a9a" stroke-width="1"/>
<line x1="332.40000000000003" y1="212.02" x2="336.00000000000006" y2="212.02" stroke="#d98a9a" stroke-width="1"/>
<line x1="332.40000000000003" y1="222.10" x2="336.00000000000006" y2="222.10" stroke="#d98a9a" stroke-width="1"/>
<circle cx="334.20000000000005" cy="217.06" r="1.8" fill="#fff" stroke="#c83350" stroke-width="1"/>
<line x1="358.3" y1="225.62" x2="358.3" y2="230.66" stroke="#d98a9a" stroke-width="1"/>
<line x1="356.5" y1="225.62" x2="360.1" y2="225.62" stroke="#d98a9a" stroke-width="1"/>
<line x1="356.5" y1="230.66" x2="360.1" y2="230.66" stroke="#d98a9a" stroke-width="1"/>
<circle cx="358.3" cy="228.14" r="1.8" fill="#fff" stroke="#c83350" stroke-width="1"/>
<line x1="382.5" y1="232.43" x2="382.5" y2="236.46" stroke="#d98a9a" stroke-width="1"/>
<line x1="380.7" y1="232.43" x2="384.3" y2="232.43" stroke="#d98a9a" stroke-width="1"/>
<line x1="380.7" y1="236.46" x2="384.3" y2="236.46" stroke="#d98a9a" stroke-width="1"/>
<circle cx="382.5" cy="234.44" r="1.8" fill="#fff" stroke="#c83350" stroke-width="1"/>
<line x1="406.4" y1="240.74" x2="406.4" y2="244.78" stroke="#d98a9a" stroke-width="1"/>
<line x1="404.59999999999997" y1="240.74" x2="408.2" y2="240.74" stroke="#d98a9a" stroke-width="1"/>
<line x1="404.59999999999997" y1="244.78" x2="408.2" y2="244.78" stroke="#d98a9a" stroke-width="1"/>
<circle cx="406.4" cy="242.76" r="1.8" fill="#fff" stroke="#c83350" stroke-width="1"/>
<line x1="429.9" y1="251.08" x2="429.9" y2="254.10" stroke="#d98a9a" stroke-width="1"/>
<line x1="428.09999999999997" y1="251.08" x2="431.7" y2="251.08" stroke="#d98a9a" stroke-width="1"/>
<line x1="428.09999999999997" y1="254.10" x2="431.7" y2="254.10" stroke="#d98a9a" stroke-width="1"/>
<circle cx="429.9" cy="252.59" r="1.8" fill="#fff" stroke="#c83350" stroke-width="1"/>
<line x1="307.6" y1="175.48" x2="307.6" y2="188.08" stroke="#8eaac4" stroke-width="1"/>
<line x1="305.8" y1="175.48" x2="309.40000000000003" y2="175.48" stroke="#8eaac4" stroke-width="1"/>
<line x1="305.8" y1="188.08" x2="309.40000000000003" y2="188.08" stroke="#8eaac4" stroke-width="1"/>
<circle cx="307.6" cy="181.78" r="2.25" fill="#1c4561"/>
<line x1="334.20000000000005" y1="195.89" x2="334.20000000000005" y2="203.45" stroke="#8eaac4" stroke-width="1"/>
<line x1="332.40000000000003" y1="195.89" x2="336.00000000000006" y2="195.89" stroke="#8eaac4" stroke-width="1"/>
<line x1="332.40000000000003" y1="203.45" x2="336.00000000000006" y2="203.45" stroke="#8eaac4" stroke-width="1"/>
<circle cx="334.20000000000005" cy="199.67" r="2.25" fill="#1c4561"/>
<line x1="358.3" y1="207.23" x2="358.3" y2="217.31" stroke="#8eaac4" stroke-width="1"/>
<line x1="356.5" y1="207.23" x2="360.1" y2="207.23" stroke="#8eaac4" stroke-width="1"/>
<line x1="356.5" y1="217.31" x2="360.1" y2="217.31" stroke="#8eaac4" stroke-width="1"/>
<circle cx="358.3" cy="212.27" r="2.25" fill="#1c4561"/>
<line x1="382.5" y1="220.33" x2="382.5" y2="226.38" stroke="#8eaac4" stroke-width="1"/>
<line x1="380.7" y1="220.33" x2="384.3" y2="220.33" stroke="#8eaac4" stroke-width="1"/>
<line x1="380.7" y1="226.38" x2="384.3" y2="226.38" stroke="#8eaac4" stroke-width="1"/>
<circle cx="382.5" cy="223.36" r="2.25" fill="#1c4561"/>
<line x1="406.4" y1="220.08" x2="406.4" y2="227.64" stroke="#8eaac4" stroke-width="1"/>
<line x1="404.59999999999997" y1="220.08" x2="408.2" y2="220.08" stroke="#8eaac4" stroke-width="1"/>
<line x1="404.59999999999997" y1="227.64" x2="408.2" y2="227.64" stroke="#8eaac4" stroke-width="1"/>
<circle cx="406.4" cy="223.86" r="2.25" fill="#1c4561"/>
<line x1="429.9" y1="235.70" x2="429.9" y2="240.74" stroke="#8eaac4" stroke-width="1"/>
<line x1="428.09999999999997" y1="235.70" x2="431.7" y2="235.70" stroke="#8eaac4" stroke-width="1"/>
<line x1="428.09999999999997" y1="240.74" x2="431.7" y2="240.74" stroke="#8eaac4" stroke-width="1"/>
<circle cx="429.9" cy="238.22" r="2.25" fill="#1c4561"/>
<line x1="307.6" y1="189.08" x2="307.6" y2="196.64" stroke="#d98a9a" stroke-width="1"/>
<line x1="305.8" y1="189.08" x2="309.40000000000003" y2="189.08" stroke="#d98a9a" stroke-width="1"/>
<line x1="305.8" y1="196.64" x2="309.40000000000003" y2="196.64" stroke="#d98a9a" stroke-width="1"/>
<circle cx="307.6" cy="192.86" r="2.25" fill="#bc1036"/>
<line x1="334.20000000000005" y1="205.72" x2="334.20000000000005" y2="213.28" stroke="#d98a9a" stroke-width="1"/>
<line x1="332.40000000000003" y1="205.72" x2="336.00000000000006" y2="205.72" stroke="#d98a9a" stroke-width="1"/>
<line x1="332.40000000000003" y1="213.28" x2="336.00000000000006" y2="213.28" stroke="#d98a9a" stroke-width="1"/>
<circle cx="334.20000000000005" cy="209.50" r="2.25" fill="#bc1036"/>
<line x1="358.3" y1="215.80" x2="358.3" y2="221.84" stroke="#d98a9a" stroke-width="1"/>
<line x1="356.5" y1="215.80" x2="360.1" y2="215.80" stroke="#d98a9a" stroke-width="1"/>
<line x1="356.5" y1="221.84" x2="360.1" y2="221.84" stroke="#d98a9a" stroke-width="1"/>
<circle cx="358.3" cy="218.82" r="2.25" fill="#bc1036"/>
<line x1="382.5" y1="226.63" x2="382.5" y2="231.67" stroke="#d98a9a" stroke-width="1"/>
<line x1="380.7" y1="226.63" x2="384.3" y2="226.63" stroke="#d98a9a" stroke-width="1"/>
<line x1="380.7" y1="231.67" x2="384.3" y2="231.67" stroke="#d98a9a" stroke-width="1"/>
<circle cx="382.5" cy="229.15" r="2.25" fill="#bc1036"/>
<line x1="406.4" y1="239.74" x2="406.4" y2="243.77" stroke="#d98a9a" stroke-width="1"/>
<line x1="404.59999999999997" y1="239.74" x2="408.2" y2="239.74" stroke="#d98a9a" stroke-width="1"/>
<line x1="404.59999999999997" y1="243.77" x2="408.2" y2="243.77" stroke="#d98a9a" stroke-width="1"/>
<circle cx="406.4" cy="241.75" r="2.25" fill="#bc1036"/>
<line x1="429.9" y1="246.29" x2="429.9" y2="250.32" stroke="#d98a9a" stroke-width="1"/>
<line x1="428.09999999999997" y1="246.29" x2="431.7" y2="246.29" stroke="#d98a9a" stroke-width="1"/>
<line x1="428.09999999999997" y1="250.32" x2="431.7" y2="250.32" stroke="#d98a9a" stroke-width="1"/>
<circle cx="429.9" cy="248.30" r="2.25" fill="#bc1036"/>
<line x1="435.90000000000003" y1="178.3" x2="445.1" y2="178.3" stroke="#cc2c4a" stroke-width="1"/>
<circle cx="440.70000000000005" cy="178.3" r="2.1" fill="#bc1036"/>
<text x="448.40" y="181.20" font-size="8.6" text-anchor="start" font-weight="normal" fill="#1a1a1a" stroke="#1a1a1a" stroke-width="0.17" textLength="24.6" lengthAdjust="spacingAndGlyphs">CT-001</text>
<line x1="435.90000000000003" y1="190.3" x2="445.1" y2="190.3" stroke="#4a77a0" stroke-width="1"/>
<circle cx="440.70000000000005" cy="190.3" r="2.1" fill="#1c4561"/>
<text x="448.40" y="193.10" font-size="8.6" text-anchor="start" font-weight="normal" fill="#1a1a1a" stroke="#1a1a1a" stroke-width="0.17" textLength="19.2" lengthAdjust="spacingAndGlyphs">rFVIIa</text>
<line x1="435.90000000000003" y1="201.8" x2="445.1" y2="201.8" stroke="#e08aa0" stroke-width="1" stroke-dasharray="1.2,1"/>
<circle cx="440.70000000000005" cy="201.8" r="1.7" fill="#fff" stroke="#d4587a" stroke-width="1"/>
<text x="448.40" y="204.30" font-size="8.6" text-anchor="start" font-weight="normal" fill="#1a1a1a" stroke="#1a1a1a" stroke-width="0.17" textLength="24.6" lengthAdjust="spacingAndGlyphs">CT-001</text>
<line x1="435.90000000000003" y1="213.20000000000002" x2="445.1" y2="213.20000000000002" stroke="#92b0cc" stroke-width="1" stroke-dasharray="1.2,1"/>
<circle cx="440.70000000000005" cy="213.20000000000002" r="1.7" fill="#fff" stroke="#6a8db3" stroke-width="1"/>
<text x="448.40" y="215.60" font-size="8.6" text-anchor="start" font-weight="normal" fill="#1a1a1a" stroke="#1a1a1a" stroke-width="0.17" textLength="19.2" lengthAdjust="spacingAndGlyphs">rFVIIa</text>
<path d="M475.90000000000003,173.9 H479.40000000000003 V194.3 H475.90000000000003" fill="none" stroke="#222" stroke-width="1"/>
<path d="M475.90000000000003,197.3 H479.40000000000003 V217.8 H475.90000000000003" fill="none" stroke="#222" stroke-width="1"/>
<text x="483.20" y="182.30" font-size="8.6" text-anchor="start" font-weight="normal" fill="#1a1a1a" stroke="#1a1a1a" stroke-width="0.17" textLength="22.2" lengthAdjust="spacingAndGlyphs">Before</text>
<text x="483.20" y="192.50" font-size="8.6" text-anchor="start" font-weight="normal" fill="#1a1a1a" stroke="#1a1a1a" stroke-width="0.17" textLength="25.7" lengthAdjust="spacingAndGlyphs">Delivery</text>
<text x="483.20" y="206.30" font-size="8.6" text-anchor="start" font-weight="normal" fill="#1a1a1a" stroke="#1a1a1a" stroke-width="0.17" textLength="16" lengthAdjust="spacingAndGlyphs">After</text>
<text x="483.20" y="216.30" font-size="8.6" text-anchor="start" font-weight="normal" fill="#1a1a1a" stroke="#1a1a1a" stroke-width="0.17" textLength="25.7" lengthAdjust="spacingAndGlyphs">Delivery</text>
<rect x="261.6" y="295.1" width="252.20" height="52.30" fill="none" stroke="#3a3a3a" stroke-width="1.3"/>
<line x1="261.6" y1="308.2" x2="513.8" y2="308.2" stroke="#3a3a3a" stroke-width="1.3"/>
<line x1="261.6" y1="321.3" x2="513.8" y2="321.3" stroke="#3a3a3a" stroke-width="1.3"/>
<line x1="261.6" y1="333.9" x2="513.8" y2="333.9" stroke="#3a3a3a" stroke-width="1.3"/>
<line x1="388.0" y1="308.2" x2="388.0" y2="347.4" stroke="#3a3a3a" stroke-width="1.3"/>
<line x1="302.9" y1="321.3" x2="302.9" y2="347.4" stroke="#3a3a3a" stroke-width="1.3"/>
<line x1="349.2" y1="321.3" x2="349.2" y2="347.4" stroke="#3a3a3a" stroke-width="1.3"/>
<line x1="429.8" y1="321.3" x2="429.8" y2="347.4" stroke="#3a3a3a" stroke-width="1.3"/>
<line x1="475.5" y1="321.3" x2="475.5" y2="347.4" stroke="#3a3a3a" stroke-width="1.3"/>
<text x="387.70" y="304.20" font-size="8.1" text-anchor="middle" font-weight="normal" fill="#1a1a1a" stroke="#1a1a1a" stroke-width="0.17" textLength="142.2" lengthAdjust="spacingAndGlyphs">Dose (nM) to shorten NATEM CT to 269 s</text>
<text x="325.00" y="316.40" font-size="7.73" text-anchor="middle" font-weight="normal" fill="#1a1a1a" stroke="#1a1a1a" stroke-width="0.17"  textLength="51.27" lengthAdjust="spacingAndGlyphs">Before Delivery</text>
<text x="453.60" y="316.40" font-size="7.73" text-anchor="middle" font-weight="normal" fill="#1a1a1a" stroke="#1a1a1a" stroke-width="0.17"  textLength="45.01" lengthAdjust="spacingAndGlyphs">After Delivery</text>
<text x="282.25" y="329.70" font-size="7.73" text-anchor="middle" font-weight="normal" fill="#1a1a1a" stroke="#1a1a1a" stroke-width="0.17"  textLength="24.59" lengthAdjust="spacingAndGlyphs">CT-001</text>
<text x="282.25" y="343.00" font-size="7.73" text-anchor="middle" font-weight="normal" fill="#1a1a1a" stroke="#1a1a1a" stroke-width="0.17"  textLength="10.43" lengthAdjust="spacingAndGlyphs">8.1</text>
<text x="326.05" y="329.70" font-size="7.73" text-anchor="middle" font-weight="normal" fill="#1a1a1a" stroke="#1a1a1a" stroke-width="0.17"  textLength="20.42" lengthAdjust="spacingAndGlyphs">rFVIIa</text>
<text x="326.05" y="343.00" font-size="7.73" text-anchor="middle" font-weight="normal" fill="#1a1a1a" stroke="#1a1a1a" stroke-width="0.17"  textLength="8.34" lengthAdjust="spacingAndGlyphs">18</text>
<text x="368.60" y="329.70" font-size="7.73" text-anchor="middle" font-weight="normal" fill="#1a1a1a" stroke="#1a1a1a" stroke-width="0.17"  textLength="14.59" lengthAdjust="spacingAndGlyphs">Fold</text>
<text x="368.60" y="343.00" font-size="7.73" text-anchor="middle" font-weight="normal" fill="#1a1a1a" stroke="#1a1a1a" stroke-width="0.17"  textLength="10.43" lengthAdjust="spacingAndGlyphs">2.2</text>
<text x="408.90" y="329.70" font-size="7.73" text-anchor="middle" font-weight="normal" fill="#1a1a1a" stroke="#1a1a1a" stroke-width="0.17"  textLength="24.59" lengthAdjust="spacingAndGlyphs">CT-001</text>
<text x="408.90" y="343.00" font-size="7.73" text-anchor="middle" font-weight="normal" fill="#1a1a1a" stroke="#1a1a1a" stroke-width="0.17"  textLength="10.43" lengthAdjust="spacingAndGlyphs">3.0</text>
<text x="452.65" y="329.70" font-size="7.73" text-anchor="middle" font-weight="normal" fill="#1a1a1a" stroke="#1a1a1a" stroke-width="0.17"  textLength="20.42" lengthAdjust="spacingAndGlyphs">rFVIIa</text>
<text x="452.65" y="343.00" font-size="7.73" text-anchor="middle" font-weight="normal" fill="#1a1a1a" stroke="#1a1a1a" stroke-width="0.17"  textLength="10.43" lengthAdjust="spacingAndGlyphs">5.1</text>
<text x="494.65" y="329.70" font-size="7.73" text-anchor="middle" font-weight="normal" fill="#1a1a1a" stroke="#1a1a1a" stroke-width="0.17"  textLength="14.59" lengthAdjust="spacingAndGlyphs">Fold</text>
<text x="494.65" y="343.00" font-size="7.73" text-anchor="middle" font-weight="normal" fill="#1a1a1a" stroke="#1a1a1a" stroke-width="0.17"  textLength="10.43" lengthAdjust="spacingAndGlyphs">1.7</text>
</g>
<rect x="0.55" y="0.55" width="518.9" height="352.8" fill="none" stroke="#575757" stroke-width="1.1"/>
</svg>
</body></html>
